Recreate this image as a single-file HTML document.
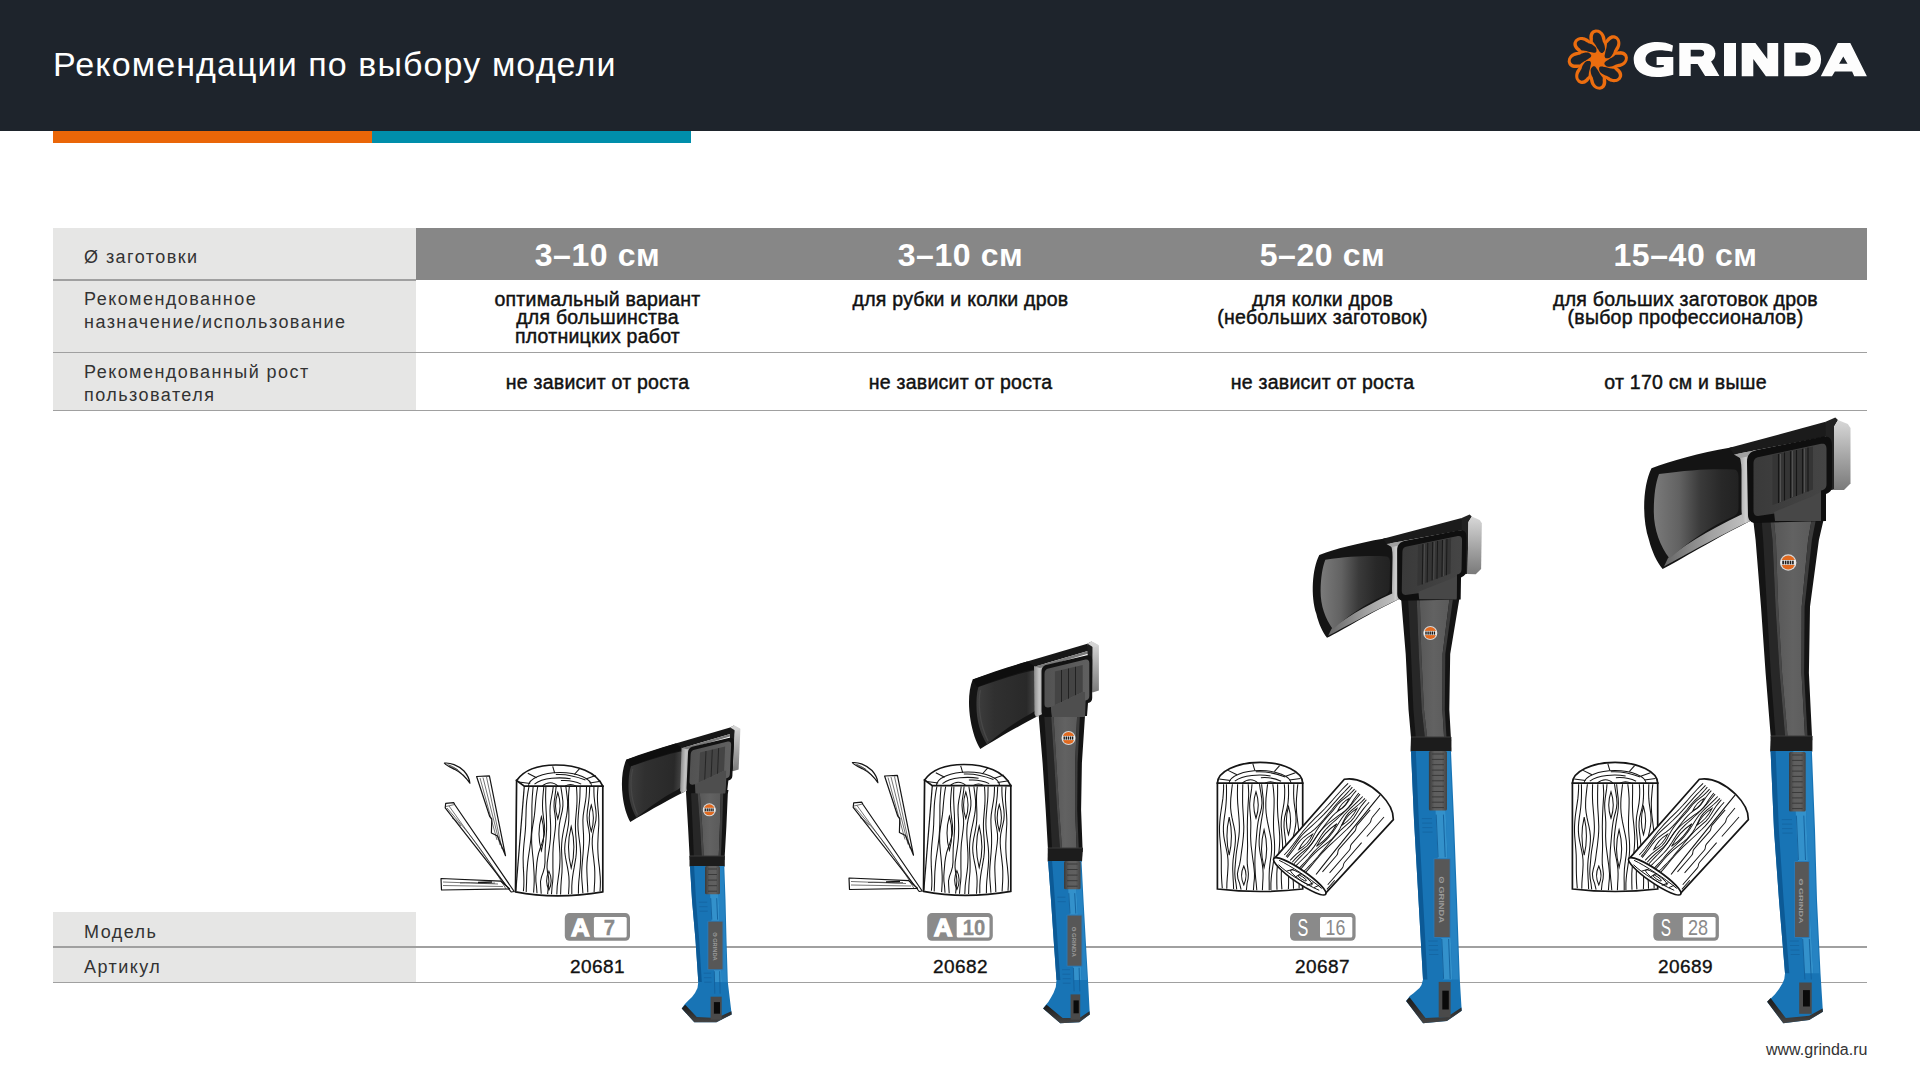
<!DOCTYPE html>
<html><head><meta charset="utf-8">
<style>
*{margin:0;padding:0;box-sizing:border-box}
html,body{width:1920px;height:1080px;overflow:hidden;background:#fff}
body{position:relative;font-family:"Liberation Sans",sans-serif;color:#000}
.a{position:absolute;white-space:nowrap}
#hdr{left:0;top:0;width:1920px;height:131px;background:#1e242c}
#title{left:53px;top:47px;font-size:34px;line-height:1;color:#fff;letter-spacing:1.1px}
.bar{top:131px;height:12px}
.g{background:#e6e6e5}
.dk{background:#878787}
.ln{height:1.5px;background:#a0a0a0}
.lb{font-size:18px;letter-spacing:1.45px;color:#333;line-height:1}
.hv{font-size:32px;font-weight:700;color:#fff;line-height:1;text-align:center;width:363px;letter-spacing:0.6px}
.tx{font-size:19.5px;font-weight:400;color:#111;line-height:1;text-align:center;width:363px;letter-spacing:0.25px;-webkit-text-stroke:0.45px #111}
.art{font-size:19px;color:#111;line-height:1;text-align:center;width:363px;letter-spacing:0.4px;-webkit-text-stroke:0.35px #111}
</style></head><body>
<div id="hdr" class="a"></div>
<svg class="a" style="left:0;top:0" width="1920" height="131" viewBox="0 0 1920 131">
<g fill="#ec6d0f">
<path transform="translate(1597.8 59.6) rotate(-90)" d="M0.70,4.18 L1.27,4.48 L1.27,5.65 L1.75,6.15 L2.24,6.63 L2.77,7.08 L3.31,7.51 L3.88,7.92 L4.47,8.29 L5.09,8.63 L5.73,8.94 L6.38,9.22 L7.06,9.46 L7.76,9.66 L8.47,9.82 L9.20,9.94 L9.94,10.02 L10.69,10.05 L11.45,10.03 L12.22,9.97 L13.00,9.86 L13.77,9.71 L14.55,9.50 L15.33,9.25 L16.11,8.94 L16.88,8.59 L17.64,8.19 L18.31,7.97 L18.91,7.90 L19.50,7.84 L20.09,7.77 L20.68,7.69 L21.28,7.61 L21.87,7.51 L22.46,7.37 L23.04,7.19 L23.63,6.98 L24.22,6.74 L24.80,6.45 L25.37,6.12 L25.95,5.74 L26.52,5.32 L27.08,4.83 L27.64,4.28 L28.19,3.64 L28.73,2.88 L29.25,1.97 L29.75,0.75 L30.12,-2.14 L30.12,-2.14 L29.38,-4.76 L28.76,-5.71 L28.16,-6.36 L27.58,-6.86 L27.01,-7.26 L26.45,-7.57 L25.89,-7.83 L25.33,-8.03 L24.78,-8.19 L24.23,-8.31 L23.69,-8.40 L23.15,-8.45 L22.60,-8.48 L22.06,-8.47 L21.52,-8.44 L20.98,-8.38 L20.44,-8.31 L19.91,-8.23 L19.37,-8.16 L18.83,-8.10 L18.29,-8.03 L17.82,-7.80 L17.43,-7.41 L17.03,-7.02 L16.63,-6.65 L16.21,-6.27 L15.78,-5.91 L15.34,-5.55 L14.89,-5.19 L14.43,-4.84 L13.96,-4.50 L13.48,-4.17 L12.98,-3.85 L12.48,-3.54 L11.96,-3.24 L11.43,-2.95 L10.89,-2.69 L10.34,-2.43 L9.78,-2.20 L9.21,-1.98 L8.63,-1.79 L8.05,-1.62 L7.46,-1.47 L6.87,-1.35 L6.27,-1.25 L5.68,-1.18 L4.64,-0.48 L4.18,-0.70 Z"/>
<path transform="translate(1597.8 59.6) rotate(-45)" d="M0.70,4.18 L1.27,4.48 L1.27,5.65 L1.75,6.15 L2.24,6.63 L2.77,7.08 L3.31,7.51 L3.88,7.92 L4.47,8.29 L5.09,8.63 L5.73,8.94 L6.38,9.22 L7.06,9.46 L7.76,9.66 L8.47,9.82 L9.20,9.94 L9.94,10.02 L10.69,10.05 L11.45,10.03 L12.22,9.97 L13.00,9.86 L13.77,9.71 L14.55,9.50 L15.33,9.25 L16.11,8.94 L16.88,8.59 L17.64,8.19 L18.31,7.97 L18.91,7.90 L19.50,7.84 L20.09,7.77 L20.68,7.69 L21.28,7.61 L21.87,7.51 L22.46,7.37 L23.04,7.19 L23.63,6.98 L24.22,6.74 L24.80,6.45 L25.37,6.12 L25.95,5.74 L26.52,5.32 L27.08,4.83 L27.64,4.28 L28.19,3.64 L28.73,2.88 L29.25,1.97 L29.75,0.75 L30.12,-2.14 L30.12,-2.14 L29.38,-4.76 L28.76,-5.71 L28.16,-6.36 L27.58,-6.86 L27.01,-7.26 L26.45,-7.57 L25.89,-7.83 L25.33,-8.03 L24.78,-8.19 L24.23,-8.31 L23.69,-8.40 L23.15,-8.45 L22.60,-8.48 L22.06,-8.47 L21.52,-8.44 L20.98,-8.38 L20.44,-8.31 L19.91,-8.23 L19.37,-8.16 L18.83,-8.10 L18.29,-8.03 L17.82,-7.80 L17.43,-7.41 L17.03,-7.02 L16.63,-6.65 L16.21,-6.27 L15.78,-5.91 L15.34,-5.55 L14.89,-5.19 L14.43,-4.84 L13.96,-4.50 L13.48,-4.17 L12.98,-3.85 L12.48,-3.54 L11.96,-3.24 L11.43,-2.95 L10.89,-2.69 L10.34,-2.43 L9.78,-2.20 L9.21,-1.98 L8.63,-1.79 L8.05,-1.62 L7.46,-1.47 L6.87,-1.35 L6.27,-1.25 L5.68,-1.18 L4.64,-0.48 L4.18,-0.70 Z"/>
<path transform="translate(1597.8 59.6) rotate(0)" d="M0.70,4.18 L1.27,4.48 L1.27,5.65 L1.75,6.15 L2.24,6.63 L2.77,7.08 L3.31,7.51 L3.88,7.92 L4.47,8.29 L5.09,8.63 L5.73,8.94 L6.38,9.22 L7.06,9.46 L7.76,9.66 L8.47,9.82 L9.20,9.94 L9.94,10.02 L10.69,10.05 L11.45,10.03 L12.22,9.97 L13.00,9.86 L13.77,9.71 L14.55,9.50 L15.33,9.25 L16.11,8.94 L16.88,8.59 L17.64,8.19 L18.31,7.97 L18.91,7.90 L19.50,7.84 L20.09,7.77 L20.68,7.69 L21.28,7.61 L21.87,7.51 L22.46,7.37 L23.04,7.19 L23.63,6.98 L24.22,6.74 L24.80,6.45 L25.37,6.12 L25.95,5.74 L26.52,5.32 L27.08,4.83 L27.64,4.28 L28.19,3.64 L28.73,2.88 L29.25,1.97 L29.75,0.75 L30.12,-2.14 L30.12,-2.14 L29.38,-4.76 L28.76,-5.71 L28.16,-6.36 L27.58,-6.86 L27.01,-7.26 L26.45,-7.57 L25.89,-7.83 L25.33,-8.03 L24.78,-8.19 L24.23,-8.31 L23.69,-8.40 L23.15,-8.45 L22.60,-8.48 L22.06,-8.47 L21.52,-8.44 L20.98,-8.38 L20.44,-8.31 L19.91,-8.23 L19.37,-8.16 L18.83,-8.10 L18.29,-8.03 L17.82,-7.80 L17.43,-7.41 L17.03,-7.02 L16.63,-6.65 L16.21,-6.27 L15.78,-5.91 L15.34,-5.55 L14.89,-5.19 L14.43,-4.84 L13.96,-4.50 L13.48,-4.17 L12.98,-3.85 L12.48,-3.54 L11.96,-3.24 L11.43,-2.95 L10.89,-2.69 L10.34,-2.43 L9.78,-2.20 L9.21,-1.98 L8.63,-1.79 L8.05,-1.62 L7.46,-1.47 L6.87,-1.35 L6.27,-1.25 L5.68,-1.18 L4.64,-0.48 L4.18,-0.70 Z"/>
<path transform="translate(1597.8 59.6) rotate(45)" d="M0.70,4.18 L1.27,4.48 L1.27,5.65 L1.75,6.15 L2.24,6.63 L2.77,7.08 L3.31,7.51 L3.88,7.92 L4.47,8.29 L5.09,8.63 L5.73,8.94 L6.38,9.22 L7.06,9.46 L7.76,9.66 L8.47,9.82 L9.20,9.94 L9.94,10.02 L10.69,10.05 L11.45,10.03 L12.22,9.97 L13.00,9.86 L13.77,9.71 L14.55,9.50 L15.33,9.25 L16.11,8.94 L16.88,8.59 L17.64,8.19 L18.31,7.97 L18.91,7.90 L19.50,7.84 L20.09,7.77 L20.68,7.69 L21.28,7.61 L21.87,7.51 L22.46,7.37 L23.04,7.19 L23.63,6.98 L24.22,6.74 L24.80,6.45 L25.37,6.12 L25.95,5.74 L26.52,5.32 L27.08,4.83 L27.64,4.28 L28.19,3.64 L28.73,2.88 L29.25,1.97 L29.75,0.75 L30.12,-2.14 L30.12,-2.14 L29.38,-4.76 L28.76,-5.71 L28.16,-6.36 L27.58,-6.86 L27.01,-7.26 L26.45,-7.57 L25.89,-7.83 L25.33,-8.03 L24.78,-8.19 L24.23,-8.31 L23.69,-8.40 L23.15,-8.45 L22.60,-8.48 L22.06,-8.47 L21.52,-8.44 L20.98,-8.38 L20.44,-8.31 L19.91,-8.23 L19.37,-8.16 L18.83,-8.10 L18.29,-8.03 L17.82,-7.80 L17.43,-7.41 L17.03,-7.02 L16.63,-6.65 L16.21,-6.27 L15.78,-5.91 L15.34,-5.55 L14.89,-5.19 L14.43,-4.84 L13.96,-4.50 L13.48,-4.17 L12.98,-3.85 L12.48,-3.54 L11.96,-3.24 L11.43,-2.95 L10.89,-2.69 L10.34,-2.43 L9.78,-2.20 L9.21,-1.98 L8.63,-1.79 L8.05,-1.62 L7.46,-1.47 L6.87,-1.35 L6.27,-1.25 L5.68,-1.18 L4.64,-0.48 L4.18,-0.70 Z"/>
<path transform="translate(1597.8 59.6) rotate(90)" d="M0.70,4.18 L1.27,4.48 L1.27,5.65 L1.75,6.15 L2.24,6.63 L2.77,7.08 L3.31,7.51 L3.88,7.92 L4.47,8.29 L5.09,8.63 L5.73,8.94 L6.38,9.22 L7.06,9.46 L7.76,9.66 L8.47,9.82 L9.20,9.94 L9.94,10.02 L10.69,10.05 L11.45,10.03 L12.22,9.97 L13.00,9.86 L13.77,9.71 L14.55,9.50 L15.33,9.25 L16.11,8.94 L16.88,8.59 L17.64,8.19 L18.31,7.97 L18.91,7.90 L19.50,7.84 L20.09,7.77 L20.68,7.69 L21.28,7.61 L21.87,7.51 L22.46,7.37 L23.04,7.19 L23.63,6.98 L24.22,6.74 L24.80,6.45 L25.37,6.12 L25.95,5.74 L26.52,5.32 L27.08,4.83 L27.64,4.28 L28.19,3.64 L28.73,2.88 L29.25,1.97 L29.75,0.75 L30.12,-2.14 L30.12,-2.14 L29.38,-4.76 L28.76,-5.71 L28.16,-6.36 L27.58,-6.86 L27.01,-7.26 L26.45,-7.57 L25.89,-7.83 L25.33,-8.03 L24.78,-8.19 L24.23,-8.31 L23.69,-8.40 L23.15,-8.45 L22.60,-8.48 L22.06,-8.47 L21.52,-8.44 L20.98,-8.38 L20.44,-8.31 L19.91,-8.23 L19.37,-8.16 L18.83,-8.10 L18.29,-8.03 L17.82,-7.80 L17.43,-7.41 L17.03,-7.02 L16.63,-6.65 L16.21,-6.27 L15.78,-5.91 L15.34,-5.55 L14.89,-5.19 L14.43,-4.84 L13.96,-4.50 L13.48,-4.17 L12.98,-3.85 L12.48,-3.54 L11.96,-3.24 L11.43,-2.95 L10.89,-2.69 L10.34,-2.43 L9.78,-2.20 L9.21,-1.98 L8.63,-1.79 L8.05,-1.62 L7.46,-1.47 L6.87,-1.35 L6.27,-1.25 L5.68,-1.18 L4.64,-0.48 L4.18,-0.70 Z"/>
<path transform="translate(1597.8 59.6) rotate(135)" d="M0.70,4.18 L1.27,4.48 L1.27,5.65 L1.75,6.15 L2.24,6.63 L2.77,7.08 L3.31,7.51 L3.88,7.92 L4.47,8.29 L5.09,8.63 L5.73,8.94 L6.38,9.22 L7.06,9.46 L7.76,9.66 L8.47,9.82 L9.20,9.94 L9.94,10.02 L10.69,10.05 L11.45,10.03 L12.22,9.97 L13.00,9.86 L13.77,9.71 L14.55,9.50 L15.33,9.25 L16.11,8.94 L16.88,8.59 L17.64,8.19 L18.31,7.97 L18.91,7.90 L19.50,7.84 L20.09,7.77 L20.68,7.69 L21.28,7.61 L21.87,7.51 L22.46,7.37 L23.04,7.19 L23.63,6.98 L24.22,6.74 L24.80,6.45 L25.37,6.12 L25.95,5.74 L26.52,5.32 L27.08,4.83 L27.64,4.28 L28.19,3.64 L28.73,2.88 L29.25,1.97 L29.75,0.75 L30.12,-2.14 L30.12,-2.14 L29.38,-4.76 L28.76,-5.71 L28.16,-6.36 L27.58,-6.86 L27.01,-7.26 L26.45,-7.57 L25.89,-7.83 L25.33,-8.03 L24.78,-8.19 L24.23,-8.31 L23.69,-8.40 L23.15,-8.45 L22.60,-8.48 L22.06,-8.47 L21.52,-8.44 L20.98,-8.38 L20.44,-8.31 L19.91,-8.23 L19.37,-8.16 L18.83,-8.10 L18.29,-8.03 L17.82,-7.80 L17.43,-7.41 L17.03,-7.02 L16.63,-6.65 L16.21,-6.27 L15.78,-5.91 L15.34,-5.55 L14.89,-5.19 L14.43,-4.84 L13.96,-4.50 L13.48,-4.17 L12.98,-3.85 L12.48,-3.54 L11.96,-3.24 L11.43,-2.95 L10.89,-2.69 L10.34,-2.43 L9.78,-2.20 L9.21,-1.98 L8.63,-1.79 L8.05,-1.62 L7.46,-1.47 L6.87,-1.35 L6.27,-1.25 L5.68,-1.18 L4.64,-0.48 L4.18,-0.70 Z"/>
<path transform="translate(1597.8 59.6) rotate(180)" d="M0.70,4.18 L1.27,4.48 L1.27,5.65 L1.75,6.15 L2.24,6.63 L2.77,7.08 L3.31,7.51 L3.88,7.92 L4.47,8.29 L5.09,8.63 L5.73,8.94 L6.38,9.22 L7.06,9.46 L7.76,9.66 L8.47,9.82 L9.20,9.94 L9.94,10.02 L10.69,10.05 L11.45,10.03 L12.22,9.97 L13.00,9.86 L13.77,9.71 L14.55,9.50 L15.33,9.25 L16.11,8.94 L16.88,8.59 L17.64,8.19 L18.31,7.97 L18.91,7.90 L19.50,7.84 L20.09,7.77 L20.68,7.69 L21.28,7.61 L21.87,7.51 L22.46,7.37 L23.04,7.19 L23.63,6.98 L24.22,6.74 L24.80,6.45 L25.37,6.12 L25.95,5.74 L26.52,5.32 L27.08,4.83 L27.64,4.28 L28.19,3.64 L28.73,2.88 L29.25,1.97 L29.75,0.75 L30.12,-2.14 L30.12,-2.14 L29.38,-4.76 L28.76,-5.71 L28.16,-6.36 L27.58,-6.86 L27.01,-7.26 L26.45,-7.57 L25.89,-7.83 L25.33,-8.03 L24.78,-8.19 L24.23,-8.31 L23.69,-8.40 L23.15,-8.45 L22.60,-8.48 L22.06,-8.47 L21.52,-8.44 L20.98,-8.38 L20.44,-8.31 L19.91,-8.23 L19.37,-8.16 L18.83,-8.10 L18.29,-8.03 L17.82,-7.80 L17.43,-7.41 L17.03,-7.02 L16.63,-6.65 L16.21,-6.27 L15.78,-5.91 L15.34,-5.55 L14.89,-5.19 L14.43,-4.84 L13.96,-4.50 L13.48,-4.17 L12.98,-3.85 L12.48,-3.54 L11.96,-3.24 L11.43,-2.95 L10.89,-2.69 L10.34,-2.43 L9.78,-2.20 L9.21,-1.98 L8.63,-1.79 L8.05,-1.62 L7.46,-1.47 L6.87,-1.35 L6.27,-1.25 L5.68,-1.18 L4.64,-0.48 L4.18,-0.70 Z"/>
<path transform="translate(1597.8 59.6) rotate(225)" d="M0.70,4.18 L1.27,4.48 L1.27,5.65 L1.75,6.15 L2.24,6.63 L2.77,7.08 L3.31,7.51 L3.88,7.92 L4.47,8.29 L5.09,8.63 L5.73,8.94 L6.38,9.22 L7.06,9.46 L7.76,9.66 L8.47,9.82 L9.20,9.94 L9.94,10.02 L10.69,10.05 L11.45,10.03 L12.22,9.97 L13.00,9.86 L13.77,9.71 L14.55,9.50 L15.33,9.25 L16.11,8.94 L16.88,8.59 L17.64,8.19 L18.31,7.97 L18.91,7.90 L19.50,7.84 L20.09,7.77 L20.68,7.69 L21.28,7.61 L21.87,7.51 L22.46,7.37 L23.04,7.19 L23.63,6.98 L24.22,6.74 L24.80,6.45 L25.37,6.12 L25.95,5.74 L26.52,5.32 L27.08,4.83 L27.64,4.28 L28.19,3.64 L28.73,2.88 L29.25,1.97 L29.75,0.75 L30.12,-2.14 L30.12,-2.14 L29.38,-4.76 L28.76,-5.71 L28.16,-6.36 L27.58,-6.86 L27.01,-7.26 L26.45,-7.57 L25.89,-7.83 L25.33,-8.03 L24.78,-8.19 L24.23,-8.31 L23.69,-8.40 L23.15,-8.45 L22.60,-8.48 L22.06,-8.47 L21.52,-8.44 L20.98,-8.38 L20.44,-8.31 L19.91,-8.23 L19.37,-8.16 L18.83,-8.10 L18.29,-8.03 L17.82,-7.80 L17.43,-7.41 L17.03,-7.02 L16.63,-6.65 L16.21,-6.27 L15.78,-5.91 L15.34,-5.55 L14.89,-5.19 L14.43,-4.84 L13.96,-4.50 L13.48,-4.17 L12.98,-3.85 L12.48,-3.54 L11.96,-3.24 L11.43,-2.95 L10.89,-2.69 L10.34,-2.43 L9.78,-2.20 L9.21,-1.98 L8.63,-1.79 L8.05,-1.62 L7.46,-1.47 L6.87,-1.35 L6.27,-1.25 L5.68,-1.18 L4.64,-0.48 L4.18,-0.70 Z"/>
</g><g fill="#1e242c">
<path transform="translate(1597.8 59.6) rotate(-90)" d="M6.60,3.60 L6.63,4.57 L6.93,4.97 L7.26,5.36 L7.60,5.72 L7.96,6.06 L8.35,6.36 L8.76,6.62 L9.18,6.83 L9.63,7.00 L10.10,7.11 L10.58,7.17 L11.08,7.17 L11.59,7.11 L12.11,7.04 L12.61,6.99 L13.12,6.91 L13.63,6.82 L14.15,6.70 L14.66,6.56 L15.17,6.40 L15.68,6.21 L16.20,5.98 L16.70,5.74 L17.21,5.46 L17.71,5.15 L18.18,4.93 L18.60,4.84 L19.02,4.75 L19.44,4.64 L19.86,4.52 L20.28,4.39 L20.70,4.26 L21.12,4.13 L21.54,4.06 L21.96,3.96 L22.38,3.85 L22.80,3.71 L23.21,3.55 L23.63,3.36 L24.04,3.15 L24.45,2.90 L24.86,2.62 L25.27,2.30 L25.67,1.92 L26.07,1.49 L26.46,0.95 L26.84,0.24 L27.16,-1.46 L27.16,-1.46 L26.67,-2.98 L26.24,-3.52 L25.82,-3.89 L25.40,-4.17 L24.99,-4.39 L24.58,-4.56 L24.17,-4.69 L23.77,-4.79 L23.36,-4.87 L22.96,-4.92 L22.56,-4.95 L22.16,-4.96 L21.76,-4.95 L21.36,-4.92 L20.96,-4.87 L20.56,-4.89 L20.16,-4.91 L19.76,-4.93 L19.36,-4.95 L18.96,-4.96 L18.56,-4.97 L18.17,-4.97 L17.81,-4.80 L17.48,-4.53 L17.14,-4.25 L16.80,-3.98 L16.46,-3.71 L16.10,-3.43 L15.75,-3.16 L15.38,-2.89 L15.02,-2.63 L14.64,-2.37 L14.26,-2.12 L13.88,-1.88 L13.50,-1.68 L13.11,-1.50 L12.72,-1.30 L12.31,-1.06 L11.88,-0.79 L11.43,-0.51 L10.97,-0.20 L10.49,0.13 L9.99,0.47 L9.48,0.81 L8.95,1.16 L8.40,1.50 L7.84,1.83 L7.02,2.69 Z"/>
<path transform="translate(1597.8 59.6) rotate(-45)" d="M6.60,3.60 L6.63,4.57 L6.93,4.97 L7.26,5.36 L7.60,5.72 L7.96,6.06 L8.35,6.36 L8.76,6.62 L9.18,6.83 L9.63,7.00 L10.10,7.11 L10.58,7.17 L11.08,7.17 L11.59,7.11 L12.11,7.04 L12.61,6.99 L13.12,6.91 L13.63,6.82 L14.15,6.70 L14.66,6.56 L15.17,6.40 L15.68,6.21 L16.20,5.98 L16.70,5.74 L17.21,5.46 L17.71,5.15 L18.18,4.93 L18.60,4.84 L19.02,4.75 L19.44,4.64 L19.86,4.52 L20.28,4.39 L20.70,4.26 L21.12,4.13 L21.54,4.06 L21.96,3.96 L22.38,3.85 L22.80,3.71 L23.21,3.55 L23.63,3.36 L24.04,3.15 L24.45,2.90 L24.86,2.62 L25.27,2.30 L25.67,1.92 L26.07,1.49 L26.46,0.95 L26.84,0.24 L27.16,-1.46 L27.16,-1.46 L26.67,-2.98 L26.24,-3.52 L25.82,-3.89 L25.40,-4.17 L24.99,-4.39 L24.58,-4.56 L24.17,-4.69 L23.77,-4.79 L23.36,-4.87 L22.96,-4.92 L22.56,-4.95 L22.16,-4.96 L21.76,-4.95 L21.36,-4.92 L20.96,-4.87 L20.56,-4.89 L20.16,-4.91 L19.76,-4.93 L19.36,-4.95 L18.96,-4.96 L18.56,-4.97 L18.17,-4.97 L17.81,-4.80 L17.48,-4.53 L17.14,-4.25 L16.80,-3.98 L16.46,-3.71 L16.10,-3.43 L15.75,-3.16 L15.38,-2.89 L15.02,-2.63 L14.64,-2.37 L14.26,-2.12 L13.88,-1.88 L13.50,-1.68 L13.11,-1.50 L12.72,-1.30 L12.31,-1.06 L11.88,-0.79 L11.43,-0.51 L10.97,-0.20 L10.49,0.13 L9.99,0.47 L9.48,0.81 L8.95,1.16 L8.40,1.50 L7.84,1.83 L7.02,2.69 Z"/>
<path transform="translate(1597.8 59.6) rotate(0)" d="M6.60,3.60 L6.63,4.57 L6.93,4.97 L7.26,5.36 L7.60,5.72 L7.96,6.06 L8.35,6.36 L8.76,6.62 L9.18,6.83 L9.63,7.00 L10.10,7.11 L10.58,7.17 L11.08,7.17 L11.59,7.11 L12.11,7.04 L12.61,6.99 L13.12,6.91 L13.63,6.82 L14.15,6.70 L14.66,6.56 L15.17,6.40 L15.68,6.21 L16.20,5.98 L16.70,5.74 L17.21,5.46 L17.71,5.15 L18.18,4.93 L18.60,4.84 L19.02,4.75 L19.44,4.64 L19.86,4.52 L20.28,4.39 L20.70,4.26 L21.12,4.13 L21.54,4.06 L21.96,3.96 L22.38,3.85 L22.80,3.71 L23.21,3.55 L23.63,3.36 L24.04,3.15 L24.45,2.90 L24.86,2.62 L25.27,2.30 L25.67,1.92 L26.07,1.49 L26.46,0.95 L26.84,0.24 L27.16,-1.46 L27.16,-1.46 L26.67,-2.98 L26.24,-3.52 L25.82,-3.89 L25.40,-4.17 L24.99,-4.39 L24.58,-4.56 L24.17,-4.69 L23.77,-4.79 L23.36,-4.87 L22.96,-4.92 L22.56,-4.95 L22.16,-4.96 L21.76,-4.95 L21.36,-4.92 L20.96,-4.87 L20.56,-4.89 L20.16,-4.91 L19.76,-4.93 L19.36,-4.95 L18.96,-4.96 L18.56,-4.97 L18.17,-4.97 L17.81,-4.80 L17.48,-4.53 L17.14,-4.25 L16.80,-3.98 L16.46,-3.71 L16.10,-3.43 L15.75,-3.16 L15.38,-2.89 L15.02,-2.63 L14.64,-2.37 L14.26,-2.12 L13.88,-1.88 L13.50,-1.68 L13.11,-1.50 L12.72,-1.30 L12.31,-1.06 L11.88,-0.79 L11.43,-0.51 L10.97,-0.20 L10.49,0.13 L9.99,0.47 L9.48,0.81 L8.95,1.16 L8.40,1.50 L7.84,1.83 L7.02,2.69 Z"/>
<path transform="translate(1597.8 59.6) rotate(45)" d="M6.60,3.60 L6.63,4.57 L6.93,4.97 L7.26,5.36 L7.60,5.72 L7.96,6.06 L8.35,6.36 L8.76,6.62 L9.18,6.83 L9.63,7.00 L10.10,7.11 L10.58,7.17 L11.08,7.17 L11.59,7.11 L12.11,7.04 L12.61,6.99 L13.12,6.91 L13.63,6.82 L14.15,6.70 L14.66,6.56 L15.17,6.40 L15.68,6.21 L16.20,5.98 L16.70,5.74 L17.21,5.46 L17.71,5.15 L18.18,4.93 L18.60,4.84 L19.02,4.75 L19.44,4.64 L19.86,4.52 L20.28,4.39 L20.70,4.26 L21.12,4.13 L21.54,4.06 L21.96,3.96 L22.38,3.85 L22.80,3.71 L23.21,3.55 L23.63,3.36 L24.04,3.15 L24.45,2.90 L24.86,2.62 L25.27,2.30 L25.67,1.92 L26.07,1.49 L26.46,0.95 L26.84,0.24 L27.16,-1.46 L27.16,-1.46 L26.67,-2.98 L26.24,-3.52 L25.82,-3.89 L25.40,-4.17 L24.99,-4.39 L24.58,-4.56 L24.17,-4.69 L23.77,-4.79 L23.36,-4.87 L22.96,-4.92 L22.56,-4.95 L22.16,-4.96 L21.76,-4.95 L21.36,-4.92 L20.96,-4.87 L20.56,-4.89 L20.16,-4.91 L19.76,-4.93 L19.36,-4.95 L18.96,-4.96 L18.56,-4.97 L18.17,-4.97 L17.81,-4.80 L17.48,-4.53 L17.14,-4.25 L16.80,-3.98 L16.46,-3.71 L16.10,-3.43 L15.75,-3.16 L15.38,-2.89 L15.02,-2.63 L14.64,-2.37 L14.26,-2.12 L13.88,-1.88 L13.50,-1.68 L13.11,-1.50 L12.72,-1.30 L12.31,-1.06 L11.88,-0.79 L11.43,-0.51 L10.97,-0.20 L10.49,0.13 L9.99,0.47 L9.48,0.81 L8.95,1.16 L8.40,1.50 L7.84,1.83 L7.02,2.69 Z"/>
<path transform="translate(1597.8 59.6) rotate(90)" d="M6.60,3.60 L6.63,4.57 L6.93,4.97 L7.26,5.36 L7.60,5.72 L7.96,6.06 L8.35,6.36 L8.76,6.62 L9.18,6.83 L9.63,7.00 L10.10,7.11 L10.58,7.17 L11.08,7.17 L11.59,7.11 L12.11,7.04 L12.61,6.99 L13.12,6.91 L13.63,6.82 L14.15,6.70 L14.66,6.56 L15.17,6.40 L15.68,6.21 L16.20,5.98 L16.70,5.74 L17.21,5.46 L17.71,5.15 L18.18,4.93 L18.60,4.84 L19.02,4.75 L19.44,4.64 L19.86,4.52 L20.28,4.39 L20.70,4.26 L21.12,4.13 L21.54,4.06 L21.96,3.96 L22.38,3.85 L22.80,3.71 L23.21,3.55 L23.63,3.36 L24.04,3.15 L24.45,2.90 L24.86,2.62 L25.27,2.30 L25.67,1.92 L26.07,1.49 L26.46,0.95 L26.84,0.24 L27.16,-1.46 L27.16,-1.46 L26.67,-2.98 L26.24,-3.52 L25.82,-3.89 L25.40,-4.17 L24.99,-4.39 L24.58,-4.56 L24.17,-4.69 L23.77,-4.79 L23.36,-4.87 L22.96,-4.92 L22.56,-4.95 L22.16,-4.96 L21.76,-4.95 L21.36,-4.92 L20.96,-4.87 L20.56,-4.89 L20.16,-4.91 L19.76,-4.93 L19.36,-4.95 L18.96,-4.96 L18.56,-4.97 L18.17,-4.97 L17.81,-4.80 L17.48,-4.53 L17.14,-4.25 L16.80,-3.98 L16.46,-3.71 L16.10,-3.43 L15.75,-3.16 L15.38,-2.89 L15.02,-2.63 L14.64,-2.37 L14.26,-2.12 L13.88,-1.88 L13.50,-1.68 L13.11,-1.50 L12.72,-1.30 L12.31,-1.06 L11.88,-0.79 L11.43,-0.51 L10.97,-0.20 L10.49,0.13 L9.99,0.47 L9.48,0.81 L8.95,1.16 L8.40,1.50 L7.84,1.83 L7.02,2.69 Z"/>
<path transform="translate(1597.8 59.6) rotate(135)" d="M6.60,3.60 L6.63,4.57 L6.93,4.97 L7.26,5.36 L7.60,5.72 L7.96,6.06 L8.35,6.36 L8.76,6.62 L9.18,6.83 L9.63,7.00 L10.10,7.11 L10.58,7.17 L11.08,7.17 L11.59,7.11 L12.11,7.04 L12.61,6.99 L13.12,6.91 L13.63,6.82 L14.15,6.70 L14.66,6.56 L15.17,6.40 L15.68,6.21 L16.20,5.98 L16.70,5.74 L17.21,5.46 L17.71,5.15 L18.18,4.93 L18.60,4.84 L19.02,4.75 L19.44,4.64 L19.86,4.52 L20.28,4.39 L20.70,4.26 L21.12,4.13 L21.54,4.06 L21.96,3.96 L22.38,3.85 L22.80,3.71 L23.21,3.55 L23.63,3.36 L24.04,3.15 L24.45,2.90 L24.86,2.62 L25.27,2.30 L25.67,1.92 L26.07,1.49 L26.46,0.95 L26.84,0.24 L27.16,-1.46 L27.16,-1.46 L26.67,-2.98 L26.24,-3.52 L25.82,-3.89 L25.40,-4.17 L24.99,-4.39 L24.58,-4.56 L24.17,-4.69 L23.77,-4.79 L23.36,-4.87 L22.96,-4.92 L22.56,-4.95 L22.16,-4.96 L21.76,-4.95 L21.36,-4.92 L20.96,-4.87 L20.56,-4.89 L20.16,-4.91 L19.76,-4.93 L19.36,-4.95 L18.96,-4.96 L18.56,-4.97 L18.17,-4.97 L17.81,-4.80 L17.48,-4.53 L17.14,-4.25 L16.80,-3.98 L16.46,-3.71 L16.10,-3.43 L15.75,-3.16 L15.38,-2.89 L15.02,-2.63 L14.64,-2.37 L14.26,-2.12 L13.88,-1.88 L13.50,-1.68 L13.11,-1.50 L12.72,-1.30 L12.31,-1.06 L11.88,-0.79 L11.43,-0.51 L10.97,-0.20 L10.49,0.13 L9.99,0.47 L9.48,0.81 L8.95,1.16 L8.40,1.50 L7.84,1.83 L7.02,2.69 Z"/>
<path transform="translate(1597.8 59.6) rotate(180)" d="M6.60,3.60 L6.63,4.57 L6.93,4.97 L7.26,5.36 L7.60,5.72 L7.96,6.06 L8.35,6.36 L8.76,6.62 L9.18,6.83 L9.63,7.00 L10.10,7.11 L10.58,7.17 L11.08,7.17 L11.59,7.11 L12.11,7.04 L12.61,6.99 L13.12,6.91 L13.63,6.82 L14.15,6.70 L14.66,6.56 L15.17,6.40 L15.68,6.21 L16.20,5.98 L16.70,5.74 L17.21,5.46 L17.71,5.15 L18.18,4.93 L18.60,4.84 L19.02,4.75 L19.44,4.64 L19.86,4.52 L20.28,4.39 L20.70,4.26 L21.12,4.13 L21.54,4.06 L21.96,3.96 L22.38,3.85 L22.80,3.71 L23.21,3.55 L23.63,3.36 L24.04,3.15 L24.45,2.90 L24.86,2.62 L25.27,2.30 L25.67,1.92 L26.07,1.49 L26.46,0.95 L26.84,0.24 L27.16,-1.46 L27.16,-1.46 L26.67,-2.98 L26.24,-3.52 L25.82,-3.89 L25.40,-4.17 L24.99,-4.39 L24.58,-4.56 L24.17,-4.69 L23.77,-4.79 L23.36,-4.87 L22.96,-4.92 L22.56,-4.95 L22.16,-4.96 L21.76,-4.95 L21.36,-4.92 L20.96,-4.87 L20.56,-4.89 L20.16,-4.91 L19.76,-4.93 L19.36,-4.95 L18.96,-4.96 L18.56,-4.97 L18.17,-4.97 L17.81,-4.80 L17.48,-4.53 L17.14,-4.25 L16.80,-3.98 L16.46,-3.71 L16.10,-3.43 L15.75,-3.16 L15.38,-2.89 L15.02,-2.63 L14.64,-2.37 L14.26,-2.12 L13.88,-1.88 L13.50,-1.68 L13.11,-1.50 L12.72,-1.30 L12.31,-1.06 L11.88,-0.79 L11.43,-0.51 L10.97,-0.20 L10.49,0.13 L9.99,0.47 L9.48,0.81 L8.95,1.16 L8.40,1.50 L7.84,1.83 L7.02,2.69 Z"/>
<path transform="translate(1597.8 59.6) rotate(225)" d="M6.60,3.60 L6.63,4.57 L6.93,4.97 L7.26,5.36 L7.60,5.72 L7.96,6.06 L8.35,6.36 L8.76,6.62 L9.18,6.83 L9.63,7.00 L10.10,7.11 L10.58,7.17 L11.08,7.17 L11.59,7.11 L12.11,7.04 L12.61,6.99 L13.12,6.91 L13.63,6.82 L14.15,6.70 L14.66,6.56 L15.17,6.40 L15.68,6.21 L16.20,5.98 L16.70,5.74 L17.21,5.46 L17.71,5.15 L18.18,4.93 L18.60,4.84 L19.02,4.75 L19.44,4.64 L19.86,4.52 L20.28,4.39 L20.70,4.26 L21.12,4.13 L21.54,4.06 L21.96,3.96 L22.38,3.85 L22.80,3.71 L23.21,3.55 L23.63,3.36 L24.04,3.15 L24.45,2.90 L24.86,2.62 L25.27,2.30 L25.67,1.92 L26.07,1.49 L26.46,0.95 L26.84,0.24 L27.16,-1.46 L27.16,-1.46 L26.67,-2.98 L26.24,-3.52 L25.82,-3.89 L25.40,-4.17 L24.99,-4.39 L24.58,-4.56 L24.17,-4.69 L23.77,-4.79 L23.36,-4.87 L22.96,-4.92 L22.56,-4.95 L22.16,-4.96 L21.76,-4.95 L21.36,-4.92 L20.96,-4.87 L20.56,-4.89 L20.16,-4.91 L19.76,-4.93 L19.36,-4.95 L18.96,-4.96 L18.56,-4.97 L18.17,-4.97 L17.81,-4.80 L17.48,-4.53 L17.14,-4.25 L16.80,-3.98 L16.46,-3.71 L16.10,-3.43 L15.75,-3.16 L15.38,-2.89 L15.02,-2.63 L14.64,-2.37 L14.26,-2.12 L13.88,-1.88 L13.50,-1.68 L13.11,-1.50 L12.72,-1.30 L12.31,-1.06 L11.88,-0.79 L11.43,-0.51 L10.97,-0.20 L10.49,0.13 L9.99,0.47 L9.48,0.81 L8.95,1.16 L8.40,1.50 L7.84,1.83 L7.02,2.69 Z"/>
</g>
<circle cx="1597.8" cy="59.6" r="6.3" fill="#ec6d0f"/>
<g fill="#fdfdfd">
<path d="M1673,45.4 L1672.1,51.8 C1668,50.8 1663,50.3 1659.2,50.3 C1651,50.3 1645.5,54 1645.5,59.2 C1645.5,64 1651,67.5 1659.2,67.5 C1661,67.5 1662.5,67.2 1663.8,66.8 L1663.8,64.9 L1656.6,64.9 L1656.6,56.9 L1673.3,56.9 L1673.3,74.7 C1668,76.3 1662,77 1656.9,77 C1642,77 1633.7,70 1633.7,59.5 C1633.7,49 1643,42 1657.5,42 C1663,42 1668.5,43.2 1673,45.4 Z"/>
<path fill-rule="evenodd" d="M1679.3,43 L1702.5,43 C1711,43 1715.4,47.5 1715.4,53.5 C1715.4,57.5 1713.5,60.2 1711.1,61.5 L1719.4,76.1 L1705.1,76.1 L1697.6,64.1 L1690.7,64.1 L1690.7,76.1 L1679.3,76.1 Z M1690.7,49.7 L1700.2,49.7 C1702.8,49.7 1704.2,51 1704.2,53.2 C1704.2,55.4 1702.8,56.6 1700.2,56.6 L1690.7,56.6 Z"/>
<rect x="1724" y="43" width="12" height="33.1"/>
<path d="M1741.7,43 L1755.4,43 L1767.3,59.1 L1767.3,43 L1778.2,43 L1778.2,76.3 L1765.9,76.3 L1753.3,59.1 L1753.3,76.3 L1741.7,76.3 Z"/>
<path fill-rule="evenodd" d="M1784.2,42.9 L1803,42.9 C1814.5,42.9 1821.1,49.5 1821.1,59.6 C1821.1,69.7 1814.5,76.3 1803,76.3 L1784.2,76.3 Z M1795.5,52.4 L1802.5,52.4 C1807.5,52.4 1810.6,55 1810.6,59.1 C1810.6,63.2 1807.5,65.8 1802.5,65.8 L1795.5,65.8 Z"/>
<path fill-rule="evenodd" d="M1820.8,76.3 L1837.7,42.9 L1850.3,42.9 L1866.9,76.3 L1854.2,76.3 L1852.1,71.4 L1834.9,71.4 L1832,76.3 Z M1843.3,56.6 L1847.5,63.7 L1839.1,63.7 Z"/>
</g></svg>
<div id="title" class="a">Рекомендации по выбору модели</div>
<div class="a bar" style="left:53px;width:319px;background:#ea6608"></div>
<div class="a bar" style="left:372px;width:319px;background:#008eab"></div>

<!-- table backgrounds -->
<div class="a g" style="left:53px;top:228px;width:363px;height:182px"></div>
<div class="a dk" style="left:416px;top:228px;width:1451px;height:52px"></div>
<div class="a ln" style="left:53px;top:279px;width:363px"></div>
<div class="a ln" style="left:53px;top:351.5px;width:1814px"></div>
<div class="a ln" style="left:53px;top:409.5px;width:1814px"></div>
<div class="a g" style="left:53px;top:912px;width:363px;height:70px"></div>
<div class="a ln" style="left:53px;top:946px;width:1814px"></div>
<div class="a ln" style="left:53px;top:981.75px;width:1814px"></div>

<!-- left labels -->
<div class="a lb" style="left:84px;top:247.6px">Ø заготовки</div>
<div class="a lb" style="left:84px;top:290.1px">Рекомендованное</div>
<div class="a lb" style="left:84px;top:313.3px">назначение/использование</div>
<div class="a lb" style="left:84px;top:363.3px">Рекомендованный рост</div>
<div class="a lb" style="left:84px;top:386.1px">пользователя</div>
<div class="a lb" style="left:84px;top:922.8px">Модель</div>
<div class="a lb" style="left:84px;top:958px">Артикул</div>

<!-- header values -->
<div class="a hv" style="left:416px;top:239.2px">3–10 см</div>
<div class="a hv" style="left:779px;top:239.2px">3–10 см</div>
<div class="a hv" style="left:1141px;top:239.2px">5–20 см</div>
<div class="a hv" style="left:1504px;top:239.2px">15–40 см</div>

<!-- purpose -->
<div class="a tx" style="left:416px;top:289.5px;line-height:18.7px">оптимальный вариант<br>для большинства<br>плотницких работ</div>
<div class="a tx" style="left:779px;top:289.5px;line-height:18.7px">для рубки и колки дров</div>
<div class="a tx" style="left:1141px;top:289.5px;line-height:18.7px">для колки дров<br>(небольших заготовок)</div>
<div class="a tx" style="left:1504px;top:289.5px;line-height:18.7px">для больших заготовок дров<br>(выбор профессионалов)</div>

<!-- height -->
<div class="a tx" style="left:416px;top:372.9px">не зависит от роста</div>
<div class="a tx" style="left:779px;top:372.9px">не зависит от роста</div>
<div class="a tx" style="left:1141px;top:372.9px">не зависит от роста</div>
<div class="a tx" style="left:1504px;top:372.9px">от 170 см и выше</div>

<!-- articles -->
<div class="a art" style="left:416px;top:957.2px">20681</div>
<div class="a art" style="left:779px;top:957.2px">20682</div>
<div class="a art" style="left:1141px;top:957.2px">20687</div>
<div class="a art" style="left:1504px;top:957.2px">20689</div>

<svg class="a" style="left:0;top:0" width="1920" height="1080" viewBox="0 0 1920 1080">
<rect x="564.8" y="913.1" width="65.2" height="27.7" rx="4.8" fill="#8a8a8a"/>
<rect x="593.9" y="916.9" width="32.8" height="20.6" rx="1.5" fill="#fff"/>
<text x="580.4" y="936.1" text-anchor="middle" font-family="Liberation Sans" font-weight="700" font-size="24.5" fill="#fff" stroke="#fff" stroke-width="1.3" textLength="18.7" lengthAdjust="spacingAndGlyphs">A</text>
<text x="609.4" y="935.3" text-anchor="middle" font-family="Liberation Sans" font-weight="700" font-size="21.5" fill="#8a8a8a" stroke="#8a8a8a" stroke-width="0.3" textLength="11.3" lengthAdjust="spacingAndGlyphs">7</text>
<rect x="927.2" y="913.1" width="65.6" height="27.7" rx="4.8" fill="#8a8a8a"/>
<rect x="956.7" y="916.9" width="32.8" height="20.6" rx="1.5" fill="#fff"/>
<text x="943.1" y="936.1" text-anchor="middle" font-family="Liberation Sans" font-weight="700" font-size="24.5" fill="#fff" stroke="#fff" stroke-width="1.3" textLength="18.8" lengthAdjust="spacingAndGlyphs">A</text>
<text x="974" y="935.3" text-anchor="middle" font-family="Liberation Sans" font-weight="700" font-size="21.5" fill="#8a8a8a" stroke="#8a8a8a" stroke-width="0.3" textLength="22.5" lengthAdjust="spacingAndGlyphs">10</text>
<rect x="1290" y="913.1" width="65.6" height="27.7" rx="4.8" fill="#8a8a8a"/>
<rect x="1320" y="916.9" width="32.3" height="20.6" rx="1.5" fill="#fff"/>
<text x="1302.9" y="936.1" text-anchor="middle" font-family="Liberation Sans" font-size="23.5" fill="#fff" textLength="10.8" lengthAdjust="spacingAndGlyphs">S</text>
<text x="1335.4" y="935.3" text-anchor="middle" font-family="Liberation Sans" font-size="21.5" fill="#8a8a8a" textLength="19.7" lengthAdjust="spacingAndGlyphs">16</text>
<rect x="1653.3" y="913.1" width="65.6" height="27.7" rx="4.8" fill="#8a8a8a"/>
<rect x="1682.8" y="916.9" width="32.8" height="20.6" rx="1.5" fill="#fff"/>
<text x="1665.9" y="936.1" text-anchor="middle" font-family="Liberation Sans" font-size="23.5" fill="#fff" textLength="10.3" lengthAdjust="spacingAndGlyphs">S</text>
<text x="1698" y="935.3" text-anchor="middle" font-family="Liberation Sans" font-size="21.5" fill="#8a8a8a" textLength="20.1" lengthAdjust="spacingAndGlyphs">28</text>
</svg>
<svg class="a" style="left:0;top:0" width="1920" height="1080" viewBox="0 0 1920 1080">
<g><path fill="#fff" stroke="#151515" stroke-width="1.7" d="M516.6,780.5 L515.5,891.9 Q556,900 602.8,891.9 L602.8,786.1 Z"/>
<path fill="#fff" stroke="#151515" stroke-width="1.7" d="M516.6,780.5 C524,770 538,765 555.8,765 C578,765 596,772 602.8,786.1 L524.3,786.1 Z"/>
<line x1="524.3" y1="786.1" x2="515.8" y2="891" stroke="#151515" stroke-width="1.2"/>
<g fill="none" stroke="#151515" stroke-width="1.05">
<path d="M528.5,786.1 A31.4,13.5 0 0 1 591.5,786.1"/>
<line x1="518.8" y1="781.9" x2="530.2" y2="783.4"/>
<line x1="527.8" y1="773.2" x2="536.6" y2="777.7"/>
<line x1="552.7" y1="766.3" x2="554.7" y2="773.2"/>
<line x1="579.8" y1="768.4" x2="574.3" y2="774.5"/>
<line x1="595.7" y1="775.5" x2="585.9" y2="779.1"/>
<line x1="600.8" y1="781.2" x2="589.6" y2="782.9"/>
<path d="M555.8,774.6 C566.4,773.8 574.9,775.9 585.5,780"/>
<path d="M534.5,784.1 C543,777.5 560,777.1 570.6,778.7"/>
<path d="M560.9,780.6 C568.5,780 574.9,781 581.2,784.1"/>
<path d="M542.1,786.1 C547.2,781.6 553.6,781.6 557.9,786.1"/>
<path d="M565.1,786.1 C568.5,784.1 572.8,784.3 576.1,786.1"/>
<path d="M528.9,787 L528,791.7 L527.3,796.5 L526.7,801.2 L526.3,805.9 L526.1,810.6 L526,815.4 L525.8,820.1 L525.7,824.8 L525.4,829.5 L525,834.3 L524.5,839 L524,843.7 L523.6,848.5 L523.3,853.2 L523.1,857.9 L523.2,862.6 L523.3,867.4 L523.6,872.1 L523.8,876.8 L523.9,881.5 L523.8,886.3 L523.4,891.3"/>
<path d="M533.1,787 L532.7,791.7 L532.3,796.5 L532.1,801.2 L531.9,805.9 L531.9,810.6 L531.9,815.4 L531.9,820.1 L531.8,824.8 L531.6,829.5 L531.3,834.3 L530.9,839 L530.3,843.7 L529.7,848.5 L529,853.2 L528.3,857.9 L527.7,862.6 L527.3,867.4 L526.9,872.1 L526.7,876.8 L526.6,881.5 L526.4,886.3 L526.2,892"/>
<path d="M537.7,787 L536.9,791.7 L536.2,796.5 L535.7,801.2 L535.3,805.9 L534.9,810.6 L534.4,815.4 L533.7,820.1 L532.9,824.8 L532.2,829.5 L531.7,834.3 L531.6,839 L531.7,843.7 L532.1,848.5 L532.5,853.2 L533,857.9 L533.4,862.6 L533.7,867.4 L534,872.1 L534.2,876.8 L534.2,881.5 L534,886.3 L533.6,892.6"/>
<path d="M543.8,787 L543.3,791.7 L542.9,796.5 L542.6,801.2 L542.5,805.9 L542.7,810.6 L543.2,815.4 L543.8,820.1 L544.4,824.8 L544.7,829.5 L544.3,834.3 L543.3,839 L541.8,843.7 L540.1,848.5 L538.6,853.2 L537.6,857.9 L536.9,862.6 L536.5,867.4 L536.1,872.1 L535.8,876.8 L535.9,881.5 L536.5,886.3 L537,893.2"/>
<path d="M545.9,787 L545.7,791.7 L545.6,796.5 L545.7,801.2 L545.9,805.9 L546.1,810.6 L546.4,815.4 L546.5,820.1 L546.6,824.8 L546.6,829.5 L546.3,834.3 L546,839 L545.6,843.7 L545.2,848.5 L545.1,853.2 L545,857.9 L545,862.6 L544.5,867.4 L543.2,872.1 L541.5,876.8 L540.5,881.5 L540.7,886.3 L541.2,893.7"/>
<path d="M553.2,787 L552.6,791.7 L551.7,796.5 L550.8,801.2 L550.2,805.9 L550,810.6 L550.1,815.4 L550.4,820.1 L550.6,824.8 L550.7,829.5 L550.6,834.3 L550.4,839 L549.9,843.7 L549.3,848.5 L548.6,853.2 L547.9,857.9 L547.2,862.6 L547,867.4 L547.5,872.1 L548.5,876.8 L548.9,881.5 L548.4,886.3 L547.6,894.1"/>
<path d="M556.1,787 L555.6,791.7 L554.9,796.5 L554.2,801.2 L554,805.9 L554.4,810.6 L555.1,815.4 L555.6,820.1 L555.6,824.8 L555.2,829.5 L554.6,834.3 L554,839 L553.4,843.7 L553.1,848.5 L552.9,853.2 L552.9,857.9 L552.9,862.6 L552.9,867.4 L553,872.1 L553,876.8 L552.7,881.5 L552.1,886.3 L551.5,894.3"/>
<path d="M560.9,787 L561.6,791.7 L562.3,796.5 L562.9,801.2 L562.9,805.9 L562.3,810.6 L561.2,815.4 L560.1,820.1 L559.3,824.8 L558.9,829.5 L558.8,834.3 L559,839 L559.3,843.7 L559.6,848.5 L559.9,853.2 L560,857.9 L559.9,862.6 L559.6,867.4 L559.1,872.1 L558.4,876.8 L557.8,881.5 L557.2,886.3 L556.8,894.5"/>
<path d="M565.9,787 L566.5,791.7 L567.1,796.5 L567.6,801.2 L567.6,805.9 L567.3,810.6 L566.6,815.4 L565.7,820.1 L564.7,824.8 L563.7,829.5 L562.8,834.3 L562.1,839 L561.7,843.7 L561.5,848.5 L561.7,853.2 L561.9,857.9 L562.1,862.6 L562.1,867.4 L562,872.1 L561.6,876.8 L561.2,881.5 L560.9,886.3 L560.6,894.5"/>
<path d="M569.3,787 L568.8,791.7 L568.5,796.5 L568.5,801.2 L568.6,805.9 L568.8,810.6 L568.9,815.4 L568.8,820.1 L568.4,824.8 L567.6,829.5 L566.7,834.3 L565.7,839 L565,843.7 L564.7,848.5 L564.9,853.2 L565.6,857.9 L566.5,862.6 L567.5,867.4 L568.3,872.1 L568.9,876.8 L569.1,881.5 L569,886.3 L568.5,894.3"/>
<path d="M576.5,787 L576.8,791.7 L577,796.5 L577,801.2 L576.8,805.9 L576.4,810.6 L576,815.4 L575.6,820.1 L575.4,824.8 L575.5,829.5 L575.7,834.3 L576.1,839 L576.4,843.7 L576.5,848.5 L576.3,853.2 L575.8,857.9 L575,862.6 L574.2,867.4 L573.3,872.1 L572.6,876.8 L572.1,881.5 L571.8,886.3 L571.8,894.1"/>
<path d="M580.1,787 L580,791.7 L579.9,796.5 L579.6,801.2 L579.1,805.9 L578.7,810.6 L578.3,815.4 L578,820.1 L577.9,824.8 L578.1,829.5 L578.6,834.3 L579.2,839 L579.8,843.7 L580.3,848.5 L580.6,853.2 L580.7,857.9 L580.5,862.6 L580.2,867.4 L579.7,872.1 L579.3,876.8 L578.8,881.5 L578.5,886.3 L578.4,893.7"/>
<path d="M586.5,787 L586.4,791.7 L586.1,796.5 L585.5,801.2 L584.7,805.9 L583.9,810.6 L583.2,815.4 L582.9,820.1 L583,824.8 L583.2,829.5 L583.5,834.3 L583.6,839 L583.6,843.7 L583.4,848.5 L583.1,853.2 L582.7,857.9 L582.3,862.6 L581.9,867.4 L581.7,872.1 L581.7,876.8 L582,881.5 L582.4,886.3 L582.9,893.2"/>
<path d="M589.7,787 L589.5,791.7 L589.2,796.5 L588.7,801.2 L588.1,805.9 L587.4,810.6 L587,815.4 L587.2,820.1 L587.9,824.8 L588.8,829.5 L589.5,834.3 L589.6,839 L589.2,843.7 L588.6,848.5 L588,853.2 L587.4,857.9 L587,862.6 L586.8,867.4 L586.9,872.1 L587.1,876.8 L587.3,881.5 L587.6,886.3 L587.8,892.6"/>
<path d="M593.9,787 L593.9,791.7 L594.1,796.5 L594.6,801.2 L595.2,805.9 L595.9,810.6 L596.2,815.4 L595.9,820.1 L594.9,824.8 L593.8,829.5 L592.8,834.3 L592.3,839 L592.2,843.7 L592.5,848.5 L593,853.2 L593.6,857.9 L594.1,862.6 L594.6,867.4 L594.8,872.1 L594.8,876.8 L594.7,881.5 L594.4,886.3 L594.1,892"/>
<path d="M598,787 L597.6,791.7 L597.4,796.5 L597.5,801.2 L597.8,805.9 L598.2,810.6 L598.6,815.4 L598.8,820.1 L598.8,824.8 L598.5,829.5 L598.2,834.3 L598,839 L597.8,843.7 L597.8,848.5 L598,853.2 L598.3,857.9 L598.8,862.6 L599.4,867.4 L599.8,872.1 L600.2,876.8 L600.4,881.5 L600.3,886.3 L600,891.3"/>
<path d="M541.4,816.7 Q546.2,833.8 541.4,850.9 Q536.6,833.8 541.4,816.7 Z"/>
<path d="M557.8,792.4 Q562.3,805.7 557.8,819 Q553.3,805.7 557.8,792.4 Z"/>
<path d="M571.2,826.4 Q576.6,847.3 571.2,868.2 Q565.8,847.3 571.2,826.4 Z"/>
<path d="M591.3,804.9 Q595.5,818.2 591.3,831.5 Q587.1,818.2 591.3,804.9 Z"/>
<path d="M548.9,871.1 Q553.4,880.6 548.9,890.1 Q544.4,880.6 548.9,871.1 Z"/>
</g>
<g fill="#fff" stroke="#151515" stroke-width="1.2" stroke-linejoin="round">
<path d="M444.4,763.1 C450,762.5 458,765 464,771 C467.5,775 469.5,779 469.9,783.2 C466,777.5 461,772.5 455,769.5 C451,767.5 447,766 444.4,763.1 Z"/>
<path d="M476.6,776.5 L489.4,775.8 L505.5,855.7 L497.5,836 L491.4,833 L491.8,819 L489.8,816.7 Z"/>
<path d="M445.7,803.3 L453.8,802.7 L455,805 L514.2,891.5 L511.2,892 L445.2,807.8 Z"/>
<path d="M441,878.5 L500.8,881.2 L509.5,888.8 L441.5,890 Z"/>
</g>
<g fill="none" stroke="#151515" stroke-width="0.6">
<path d="M447.5,764.5 C454,766.5 461,771.5 466.5,779"/><path d="M449,765.5 C452,767.5 455,768 458,770"/><path d="M480,778 L497,840"/><path d="M483,777.5 L500,845"/><path d="M486.5,777 L502,849"/>
<path d="M449,806 L508,888"/><path d="M447,808 C470,835 480,845 506,889"/><path d="M446,806.5 L454.5,804.5"/><path d="M452,818 C456,820 459,823 461,826"/>
<path d="M443,882 L498,884"/><path d="M443,885.5 L503,886.5"/><path d="M460,883 C475,882 485,884 495,883"/><path d="M478,882.5 L492,882" stroke-width="1.6"/>
</g></g>
<g transform="translate(408 -0.5)"><path fill="#fff" stroke="#151515" stroke-width="1.7" d="M516.6,780.5 L515.5,891.9 Q556,900 602.8,891.9 L602.8,786.1 Z"/>
<path fill="#fff" stroke="#151515" stroke-width="1.7" d="M516.6,780.5 C524,770 538,765 555.8,765 C578,765 596,772 602.8,786.1 L524.3,786.1 Z"/>
<line x1="524.3" y1="786.1" x2="515.8" y2="891" stroke="#151515" stroke-width="1.2"/>
<g fill="none" stroke="#151515" stroke-width="1.05">
<path d="M528.5,786.1 A31.4,13.5 0 0 1 591.5,786.1"/>
<line x1="518.8" y1="781.9" x2="530.2" y2="783.4"/>
<line x1="527.8" y1="773.2" x2="536.6" y2="777.7"/>
<line x1="552.7" y1="766.3" x2="554.7" y2="773.2"/>
<line x1="579.8" y1="768.4" x2="574.3" y2="774.5"/>
<line x1="595.7" y1="775.5" x2="585.9" y2="779.1"/>
<line x1="600.8" y1="781.2" x2="589.6" y2="782.9"/>
<path d="M555.8,774.6 C566.4,773.8 574.9,775.9 585.5,780"/>
<path d="M534.5,784.1 C543,777.5 560,777.1 570.6,778.7"/>
<path d="M560.9,780.6 C568.5,780 574.9,781 581.2,784.1"/>
<path d="M542.1,786.1 C547.2,781.6 553.6,781.6 557.9,786.1"/>
<path d="M565.1,786.1 C568.5,784.1 572.8,784.3 576.1,786.1"/>
<path d="M528.9,787 L528,791.7 L527.3,796.5 L526.7,801.2 L526.3,805.9 L526.1,810.6 L526,815.4 L525.8,820.1 L525.7,824.8 L525.4,829.5 L525,834.3 L524.5,839 L524,843.7 L523.6,848.5 L523.3,853.2 L523.1,857.9 L523.2,862.6 L523.3,867.4 L523.6,872.1 L523.8,876.8 L523.9,881.5 L523.8,886.3 L523.4,891.3"/>
<path d="M533.1,787 L532.7,791.7 L532.3,796.5 L532.1,801.2 L531.9,805.9 L531.9,810.6 L531.9,815.4 L531.9,820.1 L531.8,824.8 L531.6,829.5 L531.3,834.3 L530.9,839 L530.3,843.7 L529.7,848.5 L529,853.2 L528.3,857.9 L527.7,862.6 L527.3,867.4 L526.9,872.1 L526.7,876.8 L526.6,881.5 L526.4,886.3 L526.2,892"/>
<path d="M537.7,787 L536.9,791.7 L536.2,796.5 L535.7,801.2 L535.3,805.9 L534.9,810.6 L534.4,815.4 L533.7,820.1 L532.9,824.8 L532.2,829.5 L531.7,834.3 L531.6,839 L531.7,843.7 L532.1,848.5 L532.5,853.2 L533,857.9 L533.4,862.6 L533.7,867.4 L534,872.1 L534.2,876.8 L534.2,881.5 L534,886.3 L533.6,892.6"/>
<path d="M543.8,787 L543.3,791.7 L542.9,796.5 L542.6,801.2 L542.5,805.9 L542.7,810.6 L543.2,815.4 L543.8,820.1 L544.4,824.8 L544.7,829.5 L544.3,834.3 L543.3,839 L541.8,843.7 L540.1,848.5 L538.6,853.2 L537.6,857.9 L536.9,862.6 L536.5,867.4 L536.1,872.1 L535.8,876.8 L535.9,881.5 L536.5,886.3 L537,893.2"/>
<path d="M545.9,787 L545.7,791.7 L545.6,796.5 L545.7,801.2 L545.9,805.9 L546.1,810.6 L546.4,815.4 L546.5,820.1 L546.6,824.8 L546.6,829.5 L546.3,834.3 L546,839 L545.6,843.7 L545.2,848.5 L545.1,853.2 L545,857.9 L545,862.6 L544.5,867.4 L543.2,872.1 L541.5,876.8 L540.5,881.5 L540.7,886.3 L541.2,893.7"/>
<path d="M553.2,787 L552.6,791.7 L551.7,796.5 L550.8,801.2 L550.2,805.9 L550,810.6 L550.1,815.4 L550.4,820.1 L550.6,824.8 L550.7,829.5 L550.6,834.3 L550.4,839 L549.9,843.7 L549.3,848.5 L548.6,853.2 L547.9,857.9 L547.2,862.6 L547,867.4 L547.5,872.1 L548.5,876.8 L548.9,881.5 L548.4,886.3 L547.6,894.1"/>
<path d="M556.1,787 L555.6,791.7 L554.9,796.5 L554.2,801.2 L554,805.9 L554.4,810.6 L555.1,815.4 L555.6,820.1 L555.6,824.8 L555.2,829.5 L554.6,834.3 L554,839 L553.4,843.7 L553.1,848.5 L552.9,853.2 L552.9,857.9 L552.9,862.6 L552.9,867.4 L553,872.1 L553,876.8 L552.7,881.5 L552.1,886.3 L551.5,894.3"/>
<path d="M560.9,787 L561.6,791.7 L562.3,796.5 L562.9,801.2 L562.9,805.9 L562.3,810.6 L561.2,815.4 L560.1,820.1 L559.3,824.8 L558.9,829.5 L558.8,834.3 L559,839 L559.3,843.7 L559.6,848.5 L559.9,853.2 L560,857.9 L559.9,862.6 L559.6,867.4 L559.1,872.1 L558.4,876.8 L557.8,881.5 L557.2,886.3 L556.8,894.5"/>
<path d="M565.9,787 L566.5,791.7 L567.1,796.5 L567.6,801.2 L567.6,805.9 L567.3,810.6 L566.6,815.4 L565.7,820.1 L564.7,824.8 L563.7,829.5 L562.8,834.3 L562.1,839 L561.7,843.7 L561.5,848.5 L561.7,853.2 L561.9,857.9 L562.1,862.6 L562.1,867.4 L562,872.1 L561.6,876.8 L561.2,881.5 L560.9,886.3 L560.6,894.5"/>
<path d="M569.3,787 L568.8,791.7 L568.5,796.5 L568.5,801.2 L568.6,805.9 L568.8,810.6 L568.9,815.4 L568.8,820.1 L568.4,824.8 L567.6,829.5 L566.7,834.3 L565.7,839 L565,843.7 L564.7,848.5 L564.9,853.2 L565.6,857.9 L566.5,862.6 L567.5,867.4 L568.3,872.1 L568.9,876.8 L569.1,881.5 L569,886.3 L568.5,894.3"/>
<path d="M576.5,787 L576.8,791.7 L577,796.5 L577,801.2 L576.8,805.9 L576.4,810.6 L576,815.4 L575.6,820.1 L575.4,824.8 L575.5,829.5 L575.7,834.3 L576.1,839 L576.4,843.7 L576.5,848.5 L576.3,853.2 L575.8,857.9 L575,862.6 L574.2,867.4 L573.3,872.1 L572.6,876.8 L572.1,881.5 L571.8,886.3 L571.8,894.1"/>
<path d="M580.1,787 L580,791.7 L579.9,796.5 L579.6,801.2 L579.1,805.9 L578.7,810.6 L578.3,815.4 L578,820.1 L577.9,824.8 L578.1,829.5 L578.6,834.3 L579.2,839 L579.8,843.7 L580.3,848.5 L580.6,853.2 L580.7,857.9 L580.5,862.6 L580.2,867.4 L579.7,872.1 L579.3,876.8 L578.8,881.5 L578.5,886.3 L578.4,893.7"/>
<path d="M586.5,787 L586.4,791.7 L586.1,796.5 L585.5,801.2 L584.7,805.9 L583.9,810.6 L583.2,815.4 L582.9,820.1 L583,824.8 L583.2,829.5 L583.5,834.3 L583.6,839 L583.6,843.7 L583.4,848.5 L583.1,853.2 L582.7,857.9 L582.3,862.6 L581.9,867.4 L581.7,872.1 L581.7,876.8 L582,881.5 L582.4,886.3 L582.9,893.2"/>
<path d="M589.7,787 L589.5,791.7 L589.2,796.5 L588.7,801.2 L588.1,805.9 L587.4,810.6 L587,815.4 L587.2,820.1 L587.9,824.8 L588.8,829.5 L589.5,834.3 L589.6,839 L589.2,843.7 L588.6,848.5 L588,853.2 L587.4,857.9 L587,862.6 L586.8,867.4 L586.9,872.1 L587.1,876.8 L587.3,881.5 L587.6,886.3 L587.8,892.6"/>
<path d="M593.9,787 L593.9,791.7 L594.1,796.5 L594.6,801.2 L595.2,805.9 L595.9,810.6 L596.2,815.4 L595.9,820.1 L594.9,824.8 L593.8,829.5 L592.8,834.3 L592.3,839 L592.2,843.7 L592.5,848.5 L593,853.2 L593.6,857.9 L594.1,862.6 L594.6,867.4 L594.8,872.1 L594.8,876.8 L594.7,881.5 L594.4,886.3 L594.1,892"/>
<path d="M598,787 L597.6,791.7 L597.4,796.5 L597.5,801.2 L597.8,805.9 L598.2,810.6 L598.6,815.4 L598.8,820.1 L598.8,824.8 L598.5,829.5 L598.2,834.3 L598,839 L597.8,843.7 L597.8,848.5 L598,853.2 L598.3,857.9 L598.8,862.6 L599.4,867.4 L599.8,872.1 L600.2,876.8 L600.4,881.5 L600.3,886.3 L600,891.3"/>
<path d="M541.4,816.7 Q546.2,833.8 541.4,850.9 Q536.6,833.8 541.4,816.7 Z"/>
<path d="M557.8,792.4 Q562.3,805.7 557.8,819 Q553.3,805.7 557.8,792.4 Z"/>
<path d="M571.2,826.4 Q576.6,847.3 571.2,868.2 Q565.8,847.3 571.2,826.4 Z"/>
<path d="M591.3,804.9 Q595.5,818.2 591.3,831.5 Q587.1,818.2 591.3,804.9 Z"/>
<path d="M548.9,871.1 Q553.4,880.6 548.9,890.1 Q544.4,880.6 548.9,871.1 Z"/>
</g>
<g fill="#fff" stroke="#151515" stroke-width="1.2" stroke-linejoin="round">
<path d="M444.4,763.1 C450,762.5 458,765 464,771 C467.5,775 469.5,779 469.9,783.2 C466,777.5 461,772.5 455,769.5 C451,767.5 447,766 444.4,763.1 Z"/>
<path d="M476.6,776.5 L489.4,775.8 L505.5,855.7 L497.5,836 L491.4,833 L491.8,819 L489.8,816.7 Z"/>
<path d="M445.7,803.3 L453.8,802.7 L455,805 L514.2,891.5 L511.2,892 L445.2,807.8 Z"/>
<path d="M441,878.5 L500.8,881.2 L509.5,888.8 L441.5,890 Z"/>
</g>
<g fill="none" stroke="#151515" stroke-width="0.6">
<path d="M447.5,764.5 C454,766.5 461,771.5 466.5,779"/><path d="M449,765.5 C452,767.5 455,768 458,770"/><path d="M480,778 L497,840"/><path d="M483,777.5 L500,845"/><path d="M486.5,777 L502,849"/>
<path d="M449,806 L508,888"/><path d="M447,808 C470,835 480,845 506,889"/><path d="M446,806.5 L454.5,804.5"/><path d="M452,818 C456,820 459,823 461,826"/>
<path d="M443,882 L498,884"/><path d="M443,885.5 L503,886.5"/><path d="M460,883 C475,882 485,884 495,883"/><path d="M478,882.5 L492,882" stroke-width="1.6"/>
</g></g>
<g><path fill="#fff" stroke="#151515" stroke-width="1.7" d="M1217.4,783.2 L1217.4,889 Q1260.1,894 1302.7,889 L1302.7,783.2 Z"/>
<path fill="#fff" stroke="#151515" stroke-width="1.7" d="M1217.4,783.2 A42.6,20.8 0 0 1 1302.7,783.2 Z"/>
<g fill="none" stroke="#151515" stroke-width="1.05">
<path d="M1228.9,783.2 A31.2,13.4 0 0 1 1291.2,783.2"/>
<line x1="1219.2" y1="779.1" x2="1230.5" y2="780.5"/>
<line x1="1228.1" y1="770.4" x2="1236.9" y2="774.8"/>
<line x1="1252.8" y1="763.6" x2="1254.8" y2="770.4"/>
<line x1="1279.6" y1="765.6" x2="1274.3" y2="771.7"/>
<line x1="1295.4" y1="772.7" x2="1285.7" y2="776.3"/>
<line x1="1300.5" y1="778.4" x2="1289.4" y2="780.1"/>
<path d="M1255.8,771.8 C1266.4,771 1274.8,773 1285.3,777.1"/>
<path d="M1234.8,781.2 C1243.2,774.7 1260.1,774.3 1270.6,775.9"/>
<path d="M1260.9,777.7 C1268.5,777.1 1274.8,778.1 1281.1,781.2"/>
<path d="M1242.3,783.2 C1247.4,778.7 1253.7,778.7 1257.9,783.2"/>
<path d="M1265.1,783.2 C1268.5,781.2 1272.7,781.4 1276.1,783.2"/>
<path d="M1223.6,784.2 L1223.6,788.9 L1223.3,793.6 L1222.9,798.4 L1222.2,803.1 L1221.5,807.8 L1220.8,812.5 L1220.2,817.2 L1219.8,821.9 L1219.5,826.7 L1219.5,831.4 L1219.7,836.1 L1220.1,840.8 L1220.5,845.5 L1220.9,850.3 L1221.2,855 L1221.3,859.7 L1221.3,864.4 L1221.3,869.1 L1221.4,873.8 L1221.6,878.6 L1221.9,883.3 L1222.3,888.2"/>
<path d="M1226.4,784.2 L1226.5,788.9 L1226.5,793.6 L1226.4,798.4 L1226.1,803.1 L1225.7,807.8 L1225.1,812.5 L1224.4,817.2 L1223.8,821.9 L1223.4,826.7 L1223.4,831.4 L1223.8,836.1 L1224.6,840.8 L1225.6,845.5 L1226.6,850.3 L1227.5,855 L1228,859.7 L1228.1,864.4 L1227.9,869.1 L1227.6,873.8 L1227.2,878.6 L1226.9,883.3 L1226.8,888.7"/>
<path d="M1232.4,784.2 L1231.8,788.9 L1231.3,793.6 L1230.8,798.4 L1230.6,803.1 L1230.6,807.8 L1231.1,812.5 L1231.9,817.2 L1232.9,821.9 L1234,826.7 L1234.9,831.4 L1235.4,836.1 L1235.4,840.8 L1235,845.5 L1234.4,850.3 L1233.7,855 L1233.1,859.7 L1232.8,864.4 L1232.7,869.1 L1232.9,873.8 L1233.1,878.6 L1233.4,883.3 L1233.6,889.1"/>
<path d="M1237.6,784.2 L1237.5,788.9 L1237.4,793.6 L1237.5,798.4 L1237.7,803.1 L1238.1,807.8 L1238.5,812.5 L1238.9,817.2 L1239.2,821.9 L1239.4,826.7 L1239.3,831.4 L1238.9,836.1 L1238.2,840.8 L1237.5,845.5 L1236.7,850.3 L1236.1,855 L1235.7,859.7 L1235.3,864.4 L1234.9,869.1 L1234.8,873.8 L1235.2,878.6 L1236,883.3 L1236.7,889.4"/>
<path d="M1242.8,784.2 L1242.7,788.9 L1242.6,793.6 L1242.6,798.4 L1242.6,803.1 L1242.8,807.8 L1243.1,812.5 L1243.4,817.2 L1243.6,821.9 L1243.8,826.7 L1243.7,831.4 L1243.4,836.1 L1242.9,840.8 L1242.4,845.5 L1241.7,850.3 L1241.1,855 L1240.5,859.7 L1239.6,864.4 L1238.3,869.1 L1237.4,873.8 L1237.9,878.6 L1239.6,883.3 L1241.1,889.7"/>
<path d="M1248.2,784.2 L1248.5,788.9 L1248.7,793.6 L1248.5,798.4 L1248.2,803.1 L1247.9,807.8 L1247.7,812.5 L1247.5,817.2 L1247.4,821.9 L1247.3,826.7 L1247.4,831.4 L1247.4,836.1 L1247.5,840.8 L1247.6,845.5 L1247.5,850.3 L1247.3,855 L1247.2,859.7 L1247.3,864.4 L1247.9,869.1 L1248.4,873.8 L1248.1,878.6 L1247.1,883.3 L1246.4,890"/>
<path d="M1252,784.2 L1251.6,788.9 L1250.9,793.6 L1250.2,798.4 L1249.7,803.1 L1249.7,807.8 L1250.1,812.5 L1250.5,817.2 L1250.8,821.9 L1250.8,826.7 L1250.7,831.4 L1250.6,836.1 L1250.8,840.8 L1251.1,845.5 L1251.7,850.3 L1252.3,855 L1252.9,859.7 L1253.6,864.4 L1254.1,869.1 L1254.5,873.8 L1254.4,878.6 L1253.9,883.3 L1253.4,890.2"/>
<path d="M1259.5,784.2 L1260.2,788.9 L1261,793.6 L1261.7,798.4 L1262,803.1 L1261.5,807.8 L1260.4,812.5 L1259.1,817.2 L1258.1,821.9 L1257.4,826.7 L1256.9,831.4 L1256.5,836.1 L1256.1,840.8 L1255.7,845.5 L1255.3,850.3 L1255.1,855 L1254.9,859.7 L1254.9,864.4 L1255.1,869.1 L1255.3,873.8 L1255.7,878.6 L1256.2,883.3 L1256.8,890.2"/>
<path d="M1261.6,784.2 L1262.1,788.9 L1262.6,793.6 L1263.2,798.4 L1263.4,803.1 L1263.3,807.8 L1262.8,812.5 L1262,817.2 L1261.2,821.9 L1260.5,826.7 L1259.9,831.4 L1259.4,836.1 L1259.1,840.8 L1259.2,845.5 L1259.7,850.3 L1260.5,855 L1261.5,859.7 L1262.3,864.4 L1262.9,869.1 L1263.1,873.8 L1263,878.6 L1262.7,883.3 L1262.4,890.2"/>
<path d="M1267.6,784.2 L1267,788.9 L1266.5,793.6 L1266,798.4 L1265.8,803.1 L1265.8,807.8 L1266.1,812.5 L1266.7,817.2 L1267.5,821.9 L1268.5,826.7 L1269.5,831.4 L1270.5,836.1 L1271.3,840.8 L1271.6,845.5 L1271.6,850.3 L1271.2,855 L1270.5,859.7 L1269.9,864.4 L1269.4,869.1 L1269.2,873.8 L1269.1,878.6 L1269.2,883.3 L1269.2,890.2"/>
<path d="M1272.8,784.2 L1273.4,788.9 L1273.8,793.6 L1274.1,798.4 L1274.1,803.1 L1274,807.8 L1273.8,812.5 L1273.6,817.2 L1273.5,821.9 L1273.5,826.7 L1273.7,831.4 L1274,836.1 L1274.4,840.8 L1274.6,845.5 L1274.6,850.3 L1274.3,855 L1273.8,859.7 L1273.1,864.4 L1272.4,869.1 L1271.7,873.8 L1271.2,878.6 L1270.9,883.3 L1270.9,890"/>
<path d="M1277.6,784.2 L1277.6,788.9 L1277.6,793.6 L1277.5,798.4 L1277.4,803.1 L1277.5,807.8 L1277.7,812.5 L1278,817.2 L1278.5,821.9 L1279,826.7 L1279.4,831.4 L1279.7,836.1 L1279.7,840.8 L1279.5,845.5 L1279.1,850.3 L1278.6,855 L1278,859.7 L1277.5,864.4 L1277.1,869.1 L1276.8,873.8 L1276.8,878.6 L1276.8,883.3 L1277,889.7"/>
<path d="M1284.3,784.2 L1284.7,788.9 L1284.7,793.6 L1284.5,798.4 L1284,803.1 L1283.2,807.8 L1282.3,812.5 L1281.5,817.2 L1281.2,821.9 L1281.2,826.7 L1281.6,831.4 L1282,836.1 L1282.4,840.8 L1282.6,845.5 L1282.6,850.3 L1282.5,855 L1282.2,859.7 L1281.8,864.4 L1281.5,869.1 L1281.3,873.8 L1281.3,878.6 L1281.5,883.3 L1281.9,889.4"/>
<path d="M1288.4,784.2 L1288.5,788.9 L1288.6,793.6 L1288.4,798.4 L1288,803.1 L1287.1,807.8 L1285.9,812.5 L1284.7,817.2 L1284.1,821.9 L1284,826.7 L1284.4,831.4 L1285,836.1 L1285.5,840.8 L1286,845.5 L1286.5,850.3 L1287.1,855 L1287.6,859.7 L1288.1,864.4 L1288.4,869.1 L1288.6,873.8 L1288.6,878.6 L1288.6,883.3 L1288.4,889.1"/>
<path d="M1293.8,784.2 L1293.7,788.9 L1293.6,793.6 L1293.8,798.4 L1294.2,803.1 L1294.9,807.8 L1295.6,812.5 L1296,817.2 L1296,821.9 L1295.4,826.7 L1294.5,831.4 L1293.4,836.1 L1292.4,840.8 L1291.7,845.5 L1291.3,850.3 L1291.2,855 L1291.3,859.7 L1291.6,864.4 L1292.1,869.1 L1292.6,873.8 L1293,878.6 L1293.4,883.3 L1293.5,888.7"/>
<path d="M1297.8,784.2 L1297.3,788.9 L1296.9,793.6 L1296.5,798.4 L1296.3,803.1 L1296.4,807.8 L1296.6,812.5 L1297.1,817.2 L1297.7,821.9 L1298.3,826.7 L1298.8,831.4 L1299.2,836.1 L1299.3,840.8 L1299.3,845.5 L1299.2,850.3 L1299,855 L1298.8,859.7 L1298.6,864.4 L1298.6,869.1 L1298.7,873.8 L1298.9,878.6 L1299.1,883.3 L1299.1,888.2"/>
<path d="M1229.2,817.1 Q1233.7,836.1 1229.2,855.1 Q1224.7,836.1 1229.2,817.1 Z"/>
<path d="M1256,791.7 Q1260.5,805 1256,818.3 Q1251.5,805 1256,791.7 Z"/>
<path d="M1264.1,829.6 Q1269.2,848.6 1264.1,867.6 Q1259,848.6 1264.1,829.6 Z"/>
<path d="M1288.5,806.3 Q1292.7,820.5 1288.5,834.8 Q1284.3,820.5 1288.5,806.3 Z"/>
<path d="M1243.8,866 Q1248.3,875.5 1243.8,885 Q1239.3,875.5 1243.8,866 Z"/>
</g>
<g transform="translate(1300 875.9) rotate(-48)">
<path fill="#fff" stroke="#151515" stroke-width="1.7" d="M-4,-30.7 L101.5,-31.7 C110,-25 115,-12 114.7,5 C114,18 110,27 104.3,31.7 L4.1,30.6 Z"/>
<g fill="none" stroke="#151515" stroke-width="0.95">
<path d="M11.8,11 C40,9 80,7 114.2,5.4" stroke-width="1.1"/>
<g transform="rotate(-90)">
<path d="M-1.8,5 L-1.8,9.4 L-1.7,13.7 L-1.5,18.1 L-1.3,22.5 L-1.2,26.8 L-1.1,31.2 L-1.2,35.5 L-1.4,39.9 L-1.8,44.3 L-2.2,48.6 L-2.6,53 L-3,57.4 L-3.3,61.7 L-3.7,66.1 L-3.9,70.5 L-3.9,74.8 L-3.7,79.2 L-3.2,83.5 L-2.7,87.9 L-2.3,92.3 L-2.1,96.6 L-2.1,101"/>
<path d="M0.3,5 L-0.1,9.4 L-0.3,13.7 L-0.5,18.1 L-0.5,22.5 L-0.4,26.8 L-0.2,31.2 L-0.1,35.5 L0.1,39.9 L0.3,44.3 L0.4,48.6 L0.6,53 L0.6,57.4 L0.4,61.7 L-0.1,66.1 L-0.7,70.5 L-1.2,74.8 L-1.1,79.2 L-0.4,83.5 L0.5,87.9 L1.2,92.3 L1.5,96.6 L1.6,101"/>
<path d="M4,5 L4.1,9.4 L4.3,13.7 L4.4,18.1 L4.4,22.5 L4.2,26.8 L3.8,31.2 L3.1,35.5 L2.3,39.9 L1.5,44.3 L1,48.6 L0.9,53 L1.2,57.4 L2,61.7 L3.2,66.1 L4.5,70.5 L5.5,74.8 L5.9,79.2 L5.5,83.5 L4.8,87.9 L4.2,92.3 L3.8,96.6 L3.6,101"/>
<path d="M5.7,5 L5.6,9.4 L5.5,13.7 L5.5,18.1 L5.6,22.5 L5.7,26.8 L5.6,31.2 L5.3,35.5 L5,39.9 L4.6,44.3 L4.5,48.6 L4.8,53 L5.3,57.4 L5.9,61.7 L6.7,66.1 L7.4,70.5 L7.9,74.8 L7.9,79.2 L7.7,83.5 L7.3,87.9 L7,92.3 L6.7,96.6 L6.5,101"/>
<path d="M9.8,5 L9.6,9.4 L9.3,13.7 L9,18.1 L8.8,22.5 L8.8,26.8 L9.1,31.2 L9.7,35.5 L10.5,39.9 L11.3,44.3 L11.8,48.6 L11.9,53 L11.7,57.4 L11.3,61.7 L10.8,66.1 L10.5,70.5 L10.1,74.8 L9.8,79.2 L9.6,83.5 L9.6,87.9 L9.7,92.3 L9.9,96.6 L10.1,101"/>
<path d="M12.6,5 L12.6,9.4 L12.5,13.7 L12.3,18.1 L12.2,22.5 L12.3,26.8 L12.7,31.2 L13.4,35.5 L14.1,39.9 L14.7,44.3 L14.9,48.6 L14.7,53 L14.2,57.4 L13.4,61.7 L12.6,66.1 L11.8,70.5 L10.8,74.8 L9.9,79.2 L9.7,83.5 L10.2,87.9 L11,92.3 L11.5,96.6 L11.8,101"/>
<path d="M14.9,5 L14.9,9.4 L14.7,13.7 L14.2,18.1 L13.5,22.5 L12.9,26.8 L12.8,31.2 L13.2,35.5 L13.9,39.9 L14.5,44.3 L15,48.6 L15.4,53 L15.7,57.4 L15.9,61.7 L16,66.1 L15.7,70.5 L14.9,74.8 L13.8,79.2 L13.5,83.5 L14.1,87.9 L14.8,92.3 L15.1,96.6 L15.2,101"/>
<path d="M17.7,5 L17.6,9.4 L17.3,13.7 L16.6,18.1 L15.6,22.5 L14.9,26.8 L15,31.2 L15.8,35.5 L17,39.9 L18,44.3 L18.6,48.6 L19,53 L19.2,57.4 L19.3,61.7 L19.2,66.1 L19.2,70.5 L19.5,74.8 L19.8,79.2 L19.5,83.5 L18.7,87.9 L17.9,92.3 L17.6,96.6 L17.5,101"/>
<path d="M21.8,5 L22.1,9.4 L22.4,13.7 L22.8,18.1 L23.3,22.5 L23.5,26.8 L23.1,31.2 L22.2,35.5 L21.1,39.9 L20.4,44.3 L20.1,48.6 L20,53 L20.1,57.4 L20.3,61.7 L20.5,66.1 L20.6,70.5 L20.8,74.8 L21,79.2 L20.9,83.5 L20.6,87.9 L20.4,92.3 L20.4,96.6 L20.5,101"/>
<path d="M23.2,5 L23.5,9.4 L23.9,13.7 L24.5,18.1 L25.1,22.5 L25.6,26.8 L25.8,31.2 L25.6,35.5 L25.2,39.9 L24.7,44.3 L24.3,48.6 L23.9,53 L23.6,57.4 L23.4,61.7 L23.3,66.1 L23.3,70.5 L23.4,74.8 L23.4,79.2 L23.5,83.5 L23.5,87.9 L23.3,92.3 L23.2,96.6 L23,101"/>
<path d="M25.7,5 L25.7,9.4 L25.8,13.7 L26.1,18.1 L26.5,22.5 L26.9,26.8 L27.3,31.2 L27.6,35.5 L27.7,39.9 L27.7,44.3 L27.6,48.6 L27.4,53 L27.1,57.4 L26.8,61.7 L26.6,66.1 L26.5,70.5 L26.5,74.8 L26.5,79.2 L26.6,83.5 L26.6,87.9 L26.6,92.3 L26.4,96.6 L26.2,101"/>
<path d="M7.5,33 Q11.4,48.2 7.5,63.4 Q3.6,48.2 7.5,33 Z"/>
<path d="M18.5,18.6 Q21.8,29 18.5,39.5 Q15.2,29 18.5,18.6 Z"/>
<path d="M2.8,65.6 Q6.1,77 2.8,88.4 Q-0.5,77 2.8,65.6 Z"/>
<path d="M15.4,73.3 Q18.4,81.8 15.4,90.4 Q12.4,81.8 15.4,73.3 Z"/>
</g>
<path d="M18,14 L40,13.5 C43,13.5 43,11 46,11 L70,10.8 C73,10.8 73,8.5 76,8.5 L96,8"/>
<path d="M22,20 L52,19.5 C55,19.5 55,17 58,17 L86,16.5 C89,16.5 89,14.5 92,14.5 L104,14"/>
<path d="M12,26.5 L34,26.2 C37,26.2 37,24 40,24 L66,23.5 M74,23.3 L100,23"/>
<path d="M8,29 L20,28.8" />
</g>
<g transform="rotate(-7.5)"><ellipse cx="-0.5" cy="0" rx="6.5" ry="31.5" fill="#fff" stroke="#151515" stroke-width="1.7"/>
<g fill="none" stroke="#151515" stroke-width="0.9"><path d="M-3,-24 C-5,-12 -4,8 -1,24"/><path d="M1,-26 C3,-14 3.5,10 2,25"/><ellipse cx="-0.5" cy="2" rx="2.8" ry="13"/><ellipse cx="-0.5" cy="3" rx="1.2" ry="5"/><path d="M-4,-14 L2,-9 M-4,11 L2,15 M-3,-3 L3,0 M-2,18 L3,21"/></g></g>
</g></g>
<g transform="translate(355 0)"><path fill="#fff" stroke="#151515" stroke-width="1.7" d="M1217.4,783.2 L1217.4,889 Q1260.1,894 1302.7,889 L1302.7,783.2 Z"/>
<path fill="#fff" stroke="#151515" stroke-width="1.7" d="M1217.4,783.2 A42.6,20.8 0 0 1 1302.7,783.2 Z"/>
<g fill="none" stroke="#151515" stroke-width="1.05">
<path d="M1228.9,783.2 A31.2,13.4 0 0 1 1291.2,783.2"/>
<line x1="1219.2" y1="779.1" x2="1230.5" y2="780.5"/>
<line x1="1228.1" y1="770.4" x2="1236.9" y2="774.8"/>
<line x1="1252.8" y1="763.6" x2="1254.8" y2="770.4"/>
<line x1="1279.6" y1="765.6" x2="1274.3" y2="771.7"/>
<line x1="1295.4" y1="772.7" x2="1285.7" y2="776.3"/>
<line x1="1300.5" y1="778.4" x2="1289.4" y2="780.1"/>
<path d="M1255.8,771.8 C1266.4,771 1274.8,773 1285.3,777.1"/>
<path d="M1234.8,781.2 C1243.2,774.7 1260.1,774.3 1270.6,775.9"/>
<path d="M1260.9,777.7 C1268.5,777.1 1274.8,778.1 1281.1,781.2"/>
<path d="M1242.3,783.2 C1247.4,778.7 1253.7,778.7 1257.9,783.2"/>
<path d="M1265.1,783.2 C1268.5,781.2 1272.7,781.4 1276.1,783.2"/>
<path d="M1223.6,784.2 L1223.6,788.9 L1223.3,793.6 L1222.9,798.4 L1222.2,803.1 L1221.5,807.8 L1220.8,812.5 L1220.2,817.2 L1219.8,821.9 L1219.5,826.7 L1219.5,831.4 L1219.7,836.1 L1220.1,840.8 L1220.5,845.5 L1220.9,850.3 L1221.2,855 L1221.3,859.7 L1221.3,864.4 L1221.3,869.1 L1221.4,873.8 L1221.6,878.6 L1221.9,883.3 L1222.3,888.2"/>
<path d="M1226.4,784.2 L1226.5,788.9 L1226.5,793.6 L1226.4,798.4 L1226.1,803.1 L1225.7,807.8 L1225.1,812.5 L1224.4,817.2 L1223.8,821.9 L1223.4,826.7 L1223.4,831.4 L1223.8,836.1 L1224.6,840.8 L1225.6,845.5 L1226.6,850.3 L1227.5,855 L1228,859.7 L1228.1,864.4 L1227.9,869.1 L1227.6,873.8 L1227.2,878.6 L1226.9,883.3 L1226.8,888.7"/>
<path d="M1232.4,784.2 L1231.8,788.9 L1231.3,793.6 L1230.8,798.4 L1230.6,803.1 L1230.6,807.8 L1231.1,812.5 L1231.9,817.2 L1232.9,821.9 L1234,826.7 L1234.9,831.4 L1235.4,836.1 L1235.4,840.8 L1235,845.5 L1234.4,850.3 L1233.7,855 L1233.1,859.7 L1232.8,864.4 L1232.7,869.1 L1232.9,873.8 L1233.1,878.6 L1233.4,883.3 L1233.6,889.1"/>
<path d="M1237.6,784.2 L1237.5,788.9 L1237.4,793.6 L1237.5,798.4 L1237.7,803.1 L1238.1,807.8 L1238.5,812.5 L1238.9,817.2 L1239.2,821.9 L1239.4,826.7 L1239.3,831.4 L1238.9,836.1 L1238.2,840.8 L1237.5,845.5 L1236.7,850.3 L1236.1,855 L1235.7,859.7 L1235.3,864.4 L1234.9,869.1 L1234.8,873.8 L1235.2,878.6 L1236,883.3 L1236.7,889.4"/>
<path d="M1242.8,784.2 L1242.7,788.9 L1242.6,793.6 L1242.6,798.4 L1242.6,803.1 L1242.8,807.8 L1243.1,812.5 L1243.4,817.2 L1243.6,821.9 L1243.8,826.7 L1243.7,831.4 L1243.4,836.1 L1242.9,840.8 L1242.4,845.5 L1241.7,850.3 L1241.1,855 L1240.5,859.7 L1239.6,864.4 L1238.3,869.1 L1237.4,873.8 L1237.9,878.6 L1239.6,883.3 L1241.1,889.7"/>
<path d="M1248.2,784.2 L1248.5,788.9 L1248.7,793.6 L1248.5,798.4 L1248.2,803.1 L1247.9,807.8 L1247.7,812.5 L1247.5,817.2 L1247.4,821.9 L1247.3,826.7 L1247.4,831.4 L1247.4,836.1 L1247.5,840.8 L1247.6,845.5 L1247.5,850.3 L1247.3,855 L1247.2,859.7 L1247.3,864.4 L1247.9,869.1 L1248.4,873.8 L1248.1,878.6 L1247.1,883.3 L1246.4,890"/>
<path d="M1252,784.2 L1251.6,788.9 L1250.9,793.6 L1250.2,798.4 L1249.7,803.1 L1249.7,807.8 L1250.1,812.5 L1250.5,817.2 L1250.8,821.9 L1250.8,826.7 L1250.7,831.4 L1250.6,836.1 L1250.8,840.8 L1251.1,845.5 L1251.7,850.3 L1252.3,855 L1252.9,859.7 L1253.6,864.4 L1254.1,869.1 L1254.5,873.8 L1254.4,878.6 L1253.9,883.3 L1253.4,890.2"/>
<path d="M1259.5,784.2 L1260.2,788.9 L1261,793.6 L1261.7,798.4 L1262,803.1 L1261.5,807.8 L1260.4,812.5 L1259.1,817.2 L1258.1,821.9 L1257.4,826.7 L1256.9,831.4 L1256.5,836.1 L1256.1,840.8 L1255.7,845.5 L1255.3,850.3 L1255.1,855 L1254.9,859.7 L1254.9,864.4 L1255.1,869.1 L1255.3,873.8 L1255.7,878.6 L1256.2,883.3 L1256.8,890.2"/>
<path d="M1261.6,784.2 L1262.1,788.9 L1262.6,793.6 L1263.2,798.4 L1263.4,803.1 L1263.3,807.8 L1262.8,812.5 L1262,817.2 L1261.2,821.9 L1260.5,826.7 L1259.9,831.4 L1259.4,836.1 L1259.1,840.8 L1259.2,845.5 L1259.7,850.3 L1260.5,855 L1261.5,859.7 L1262.3,864.4 L1262.9,869.1 L1263.1,873.8 L1263,878.6 L1262.7,883.3 L1262.4,890.2"/>
<path d="M1267.6,784.2 L1267,788.9 L1266.5,793.6 L1266,798.4 L1265.8,803.1 L1265.8,807.8 L1266.1,812.5 L1266.7,817.2 L1267.5,821.9 L1268.5,826.7 L1269.5,831.4 L1270.5,836.1 L1271.3,840.8 L1271.6,845.5 L1271.6,850.3 L1271.2,855 L1270.5,859.7 L1269.9,864.4 L1269.4,869.1 L1269.2,873.8 L1269.1,878.6 L1269.2,883.3 L1269.2,890.2"/>
<path d="M1272.8,784.2 L1273.4,788.9 L1273.8,793.6 L1274.1,798.4 L1274.1,803.1 L1274,807.8 L1273.8,812.5 L1273.6,817.2 L1273.5,821.9 L1273.5,826.7 L1273.7,831.4 L1274,836.1 L1274.4,840.8 L1274.6,845.5 L1274.6,850.3 L1274.3,855 L1273.8,859.7 L1273.1,864.4 L1272.4,869.1 L1271.7,873.8 L1271.2,878.6 L1270.9,883.3 L1270.9,890"/>
<path d="M1277.6,784.2 L1277.6,788.9 L1277.6,793.6 L1277.5,798.4 L1277.4,803.1 L1277.5,807.8 L1277.7,812.5 L1278,817.2 L1278.5,821.9 L1279,826.7 L1279.4,831.4 L1279.7,836.1 L1279.7,840.8 L1279.5,845.5 L1279.1,850.3 L1278.6,855 L1278,859.7 L1277.5,864.4 L1277.1,869.1 L1276.8,873.8 L1276.8,878.6 L1276.8,883.3 L1277,889.7"/>
<path d="M1284.3,784.2 L1284.7,788.9 L1284.7,793.6 L1284.5,798.4 L1284,803.1 L1283.2,807.8 L1282.3,812.5 L1281.5,817.2 L1281.2,821.9 L1281.2,826.7 L1281.6,831.4 L1282,836.1 L1282.4,840.8 L1282.6,845.5 L1282.6,850.3 L1282.5,855 L1282.2,859.7 L1281.8,864.4 L1281.5,869.1 L1281.3,873.8 L1281.3,878.6 L1281.5,883.3 L1281.9,889.4"/>
<path d="M1288.4,784.2 L1288.5,788.9 L1288.6,793.6 L1288.4,798.4 L1288,803.1 L1287.1,807.8 L1285.9,812.5 L1284.7,817.2 L1284.1,821.9 L1284,826.7 L1284.4,831.4 L1285,836.1 L1285.5,840.8 L1286,845.5 L1286.5,850.3 L1287.1,855 L1287.6,859.7 L1288.1,864.4 L1288.4,869.1 L1288.6,873.8 L1288.6,878.6 L1288.6,883.3 L1288.4,889.1"/>
<path d="M1293.8,784.2 L1293.7,788.9 L1293.6,793.6 L1293.8,798.4 L1294.2,803.1 L1294.9,807.8 L1295.6,812.5 L1296,817.2 L1296,821.9 L1295.4,826.7 L1294.5,831.4 L1293.4,836.1 L1292.4,840.8 L1291.7,845.5 L1291.3,850.3 L1291.2,855 L1291.3,859.7 L1291.6,864.4 L1292.1,869.1 L1292.6,873.8 L1293,878.6 L1293.4,883.3 L1293.5,888.7"/>
<path d="M1297.8,784.2 L1297.3,788.9 L1296.9,793.6 L1296.5,798.4 L1296.3,803.1 L1296.4,807.8 L1296.6,812.5 L1297.1,817.2 L1297.7,821.9 L1298.3,826.7 L1298.8,831.4 L1299.2,836.1 L1299.3,840.8 L1299.3,845.5 L1299.2,850.3 L1299,855 L1298.8,859.7 L1298.6,864.4 L1298.6,869.1 L1298.7,873.8 L1298.9,878.6 L1299.1,883.3 L1299.1,888.2"/>
<path d="M1229.2,817.1 Q1233.7,836.1 1229.2,855.1 Q1224.7,836.1 1229.2,817.1 Z"/>
<path d="M1256,791.7 Q1260.5,805 1256,818.3 Q1251.5,805 1256,791.7 Z"/>
<path d="M1264.1,829.6 Q1269.2,848.6 1264.1,867.6 Q1259,848.6 1264.1,829.6 Z"/>
<path d="M1288.5,806.3 Q1292.7,820.5 1288.5,834.8 Q1284.3,820.5 1288.5,806.3 Z"/>
<path d="M1243.8,866 Q1248.3,875.5 1243.8,885 Q1239.3,875.5 1243.8,866 Z"/>
</g>
<g transform="translate(1300 875.9) rotate(-48)">
<path fill="#fff" stroke="#151515" stroke-width="1.7" d="M-4,-30.7 L101.5,-31.7 C110,-25 115,-12 114.7,5 C114,18 110,27 104.3,31.7 L4.1,30.6 Z"/>
<g fill="none" stroke="#151515" stroke-width="0.95">
<path d="M11.8,11 C40,9 80,7 114.2,5.4" stroke-width="1.1"/>
<g transform="rotate(-90)">
<path d="M-1.8,5 L-1.8,9.4 L-1.7,13.7 L-1.5,18.1 L-1.3,22.5 L-1.2,26.8 L-1.1,31.2 L-1.2,35.5 L-1.4,39.9 L-1.8,44.3 L-2.2,48.6 L-2.6,53 L-3,57.4 L-3.3,61.7 L-3.7,66.1 L-3.9,70.5 L-3.9,74.8 L-3.7,79.2 L-3.2,83.5 L-2.7,87.9 L-2.3,92.3 L-2.1,96.6 L-2.1,101"/>
<path d="M0.3,5 L-0.1,9.4 L-0.3,13.7 L-0.5,18.1 L-0.5,22.5 L-0.4,26.8 L-0.2,31.2 L-0.1,35.5 L0.1,39.9 L0.3,44.3 L0.4,48.6 L0.6,53 L0.6,57.4 L0.4,61.7 L-0.1,66.1 L-0.7,70.5 L-1.2,74.8 L-1.1,79.2 L-0.4,83.5 L0.5,87.9 L1.2,92.3 L1.5,96.6 L1.6,101"/>
<path d="M4,5 L4.1,9.4 L4.3,13.7 L4.4,18.1 L4.4,22.5 L4.2,26.8 L3.8,31.2 L3.1,35.5 L2.3,39.9 L1.5,44.3 L1,48.6 L0.9,53 L1.2,57.4 L2,61.7 L3.2,66.1 L4.5,70.5 L5.5,74.8 L5.9,79.2 L5.5,83.5 L4.8,87.9 L4.2,92.3 L3.8,96.6 L3.6,101"/>
<path d="M5.7,5 L5.6,9.4 L5.5,13.7 L5.5,18.1 L5.6,22.5 L5.7,26.8 L5.6,31.2 L5.3,35.5 L5,39.9 L4.6,44.3 L4.5,48.6 L4.8,53 L5.3,57.4 L5.9,61.7 L6.7,66.1 L7.4,70.5 L7.9,74.8 L7.9,79.2 L7.7,83.5 L7.3,87.9 L7,92.3 L6.7,96.6 L6.5,101"/>
<path d="M9.8,5 L9.6,9.4 L9.3,13.7 L9,18.1 L8.8,22.5 L8.8,26.8 L9.1,31.2 L9.7,35.5 L10.5,39.9 L11.3,44.3 L11.8,48.6 L11.9,53 L11.7,57.4 L11.3,61.7 L10.8,66.1 L10.5,70.5 L10.1,74.8 L9.8,79.2 L9.6,83.5 L9.6,87.9 L9.7,92.3 L9.9,96.6 L10.1,101"/>
<path d="M12.6,5 L12.6,9.4 L12.5,13.7 L12.3,18.1 L12.2,22.5 L12.3,26.8 L12.7,31.2 L13.4,35.5 L14.1,39.9 L14.7,44.3 L14.9,48.6 L14.7,53 L14.2,57.4 L13.4,61.7 L12.6,66.1 L11.8,70.5 L10.8,74.8 L9.9,79.2 L9.7,83.5 L10.2,87.9 L11,92.3 L11.5,96.6 L11.8,101"/>
<path d="M14.9,5 L14.9,9.4 L14.7,13.7 L14.2,18.1 L13.5,22.5 L12.9,26.8 L12.8,31.2 L13.2,35.5 L13.9,39.9 L14.5,44.3 L15,48.6 L15.4,53 L15.7,57.4 L15.9,61.7 L16,66.1 L15.7,70.5 L14.9,74.8 L13.8,79.2 L13.5,83.5 L14.1,87.9 L14.8,92.3 L15.1,96.6 L15.2,101"/>
<path d="M17.7,5 L17.6,9.4 L17.3,13.7 L16.6,18.1 L15.6,22.5 L14.9,26.8 L15,31.2 L15.8,35.5 L17,39.9 L18,44.3 L18.6,48.6 L19,53 L19.2,57.4 L19.3,61.7 L19.2,66.1 L19.2,70.5 L19.5,74.8 L19.8,79.2 L19.5,83.5 L18.7,87.9 L17.9,92.3 L17.6,96.6 L17.5,101"/>
<path d="M21.8,5 L22.1,9.4 L22.4,13.7 L22.8,18.1 L23.3,22.5 L23.5,26.8 L23.1,31.2 L22.2,35.5 L21.1,39.9 L20.4,44.3 L20.1,48.6 L20,53 L20.1,57.4 L20.3,61.7 L20.5,66.1 L20.6,70.5 L20.8,74.8 L21,79.2 L20.9,83.5 L20.6,87.9 L20.4,92.3 L20.4,96.6 L20.5,101"/>
<path d="M23.2,5 L23.5,9.4 L23.9,13.7 L24.5,18.1 L25.1,22.5 L25.6,26.8 L25.8,31.2 L25.6,35.5 L25.2,39.9 L24.7,44.3 L24.3,48.6 L23.9,53 L23.6,57.4 L23.4,61.7 L23.3,66.1 L23.3,70.5 L23.4,74.8 L23.4,79.2 L23.5,83.5 L23.5,87.9 L23.3,92.3 L23.2,96.6 L23,101"/>
<path d="M25.7,5 L25.7,9.4 L25.8,13.7 L26.1,18.1 L26.5,22.5 L26.9,26.8 L27.3,31.2 L27.6,35.5 L27.7,39.9 L27.7,44.3 L27.6,48.6 L27.4,53 L27.1,57.4 L26.8,61.7 L26.6,66.1 L26.5,70.5 L26.5,74.8 L26.5,79.2 L26.6,83.5 L26.6,87.9 L26.6,92.3 L26.4,96.6 L26.2,101"/>
<path d="M7.5,33 Q11.4,48.2 7.5,63.4 Q3.6,48.2 7.5,33 Z"/>
<path d="M18.5,18.6 Q21.8,29 18.5,39.5 Q15.2,29 18.5,18.6 Z"/>
<path d="M2.8,65.6 Q6.1,77 2.8,88.4 Q-0.5,77 2.8,65.6 Z"/>
<path d="M15.4,73.3 Q18.4,81.8 15.4,90.4 Q12.4,81.8 15.4,73.3 Z"/>
</g>
<path d="M18,14 L40,13.5 C43,13.5 43,11 46,11 L70,10.8 C73,10.8 73,8.5 76,8.5 L96,8"/>
<path d="M22,20 L52,19.5 C55,19.5 55,17 58,17 L86,16.5 C89,16.5 89,14.5 92,14.5 L104,14"/>
<path d="M12,26.5 L34,26.2 C37,26.2 37,24 40,24 L66,23.5 M74,23.3 L100,23"/>
<path d="M8,29 L20,28.8" />
</g>
<g transform="rotate(-7.5)"><ellipse cx="-0.5" cy="0" rx="6.5" ry="31.5" fill="#fff" stroke="#151515" stroke-width="1.7"/>
<g fill="none" stroke="#151515" stroke-width="0.9"><path d="M-3,-24 C-5,-12 -4,8 -1,24"/><path d="M1,-26 C3,-14 3.5,10 2,25"/><ellipse cx="-0.5" cy="2" rx="2.8" ry="13"/><ellipse cx="-0.5" cy="3" rx="1.2" ry="5"/><path d="M-4,-14 L2,-9 M-4,11 L2,15 M-3,-3 L3,0 M-2,18 L3,21"/></g></g>
</g></g>
</svg>
<svg class="a" style="left:0;top:0" width="1920" height="1080" viewBox="0 0 1920 1080">
<defs>
<linearGradient id="bladeS" x1="0" y1="0" x2="1" y2="0">
 <stop offset="0" stop-color="#7a7a7a"/><stop offset="0.3" stop-color="#626262"/><stop offset="0.55" stop-color="#3a3a3a"/><stop offset="0.8" stop-color="#282828"/><stop offset="1" stop-color="#222"/></linearGradient>
<linearGradient id="sband" x1="0" y1="0" x2="1" y2="0">
 <stop offset="0" stop-color="#666"/><stop offset="0.5" stop-color="#a0a0a0"/><stop offset="1" stop-color="#c8c8c8"/></linearGradient>
<linearGradient id="bladeA" x1="0" y1="0" x2="1" y2="0">
 <stop offset="0" stop-color="#3e3e3e"/><stop offset="0.3" stop-color="#303030"/><stop offset="0.85" stop-color="#292929"/><stop offset="1" stop-color="#454545"/></linearGradient>
<linearGradient id="metal" x1="0" y1="0" x2="0" y2="1">
 <stop offset="0" stop-color="#d8d8d8"/><stop offset="0.5" stop-color="#a8a8a8"/><stop offset="1" stop-color="#7a7a7a"/></linearGradient>
<linearGradient id="metalH" x1="0" y1="0" x2="1" y2="0">
 <stop offset="0" stop-color="#9a9a9a"/><stop offset="0.5" stop-color="#cfcfcf"/><stop offset="1" stop-color="#8a8a8a"/></linearGradient>
<linearGradient id="metalA" x1="0" y1="0" x2="1" y2="0">
 <stop offset="0" stop-color="#8c8c8c"/><stop offset="0.45" stop-color="#c4c4c4"/><stop offset="1" stop-color="#9a9a9a"/></linearGradient>
<linearGradient id="coverA" x1="0" y1="0" x2="1" y2="0">
 <stop offset="0" stop-color="#525252"/><stop offset="1" stop-color="#606060"/></linearGradient>
<linearGradient id="cover" x1="0" y1="0" x2="1" y2="0">
 <stop offset="0" stop-color="#3a3a3a"/><stop offset="1" stop-color="#454545"/></linearGradient>
<linearGradient id="hdl" x1="0" y1="0" x2="1" y2="0">
 <stop offset="0" stop-color="#0c0c0c"/><stop offset="0.28" stop-color="#151515"/><stop offset="0.34" stop-color="#2c2c2c"/><stop offset="0.42" stop-color="#5a5a5a"/><stop offset="0.74" stop-color="#656565"/><stop offset="0.8" stop-color="#3e3e3e"/><stop offset="0.86" stop-color="#1b1b1b"/><stop offset="1" stop-color="#202020"/></linearGradient>
<linearGradient id="blue" x1="0" y1="0" x2="1" y2="0">
 <stop offset="0" stop-color="#0a5590"/><stop offset="0.12" stop-color="#1270b2"/><stop offset="0.35" stop-color="#1b80c3"/><stop offset="0.5" stop-color="#2b90cf"/><stop offset="0.6" stop-color="#3e9fd7"/><stop offset="0.88" stop-color="#44a3d9"/><stop offset="1" stop-color="#2680c0"/></linearGradient>
<linearGradient id="panel" x1="0" y1="0" x2="1" y2="0">
 <stop offset="0" stop-color="#575757"/><stop offset="0.5" stop-color="#626262"/><stop offset="1" stop-color="#5a5a5a"/></linearGradient>
<linearGradient id="pad" x1="0" y1="0" x2="1" y2="0">
 <stop offset="0" stop-color="#3a3a3a"/><stop offset="0.3" stop-color="#5e5e5e"/><stop offset="0.7" stop-color="#606060"/><stop offset="1" stop-color="#444"/></linearGradient>
<linearGradient id="knob" x1="0" y1="0" x2="0" y2="1">
 <stop offset="0" stop-color="#1a1a1a"/><stop offset="1" stop-color="#444"/></linearGradient>
</defs>
<g>
<polygon fill="#141414" points="686,790 686.1,794 688,826.3 689.8,860 724.5,860 726.4,826.3 727.8,794 728.5,790"/>
<polygon fill="#272727" points="691.1,790 691.1,794 692.6,826.3 694,860 701.9,860 700,826.3 697.6,794 696.2,790"/>
<polygon fill="#474747" points="696.2,790 697.6,794 700,826.3 701.9,860 704,860 702.2,826.3 699.9,794 698.3,790"/>
<polygon fill="url(#panel)" points="698.3,790 699.9,794 702.2,826.3 704,860 718.6,860 719.9,826.3 720.7,794 721.3,790"/>
<polygon fill="#3c3c3c" points="721.3,790 720.7,794 719.9,826.3 718.6,860 720.7,860 722.2,826.3 723.2,794 723.8,790"/>
<polygon fill="#1c1c1c" points="689.5,856 724.8,856 724.8,866.5 689.5,866.5"/>
<line x1="689.8" y1="856" x2="724.5" y2="856" stroke="#3a3a3a" stroke-width="1"/>
<polygon fill="#1874b5" points="690,866 692,900 695.5,940 698.3,982 697.5,988 695,993 692,997 688.3,1000.4 684.5,1004.5 681.7,1008.5 694.3,1022.2 716.5,1022.2 731.7,1014.4 727.8,982 726.5,940 725.5,900 724.3,866"/>
<polygon fill="#0c5a96" points="690,866 692,900 695.5,940 698.3,982 701.8,982 699.2,940 696,900 694.1,866"/>
<polygon fill="#3391cb" points="708.9,866 710.4,900 712.5,940 714.5,982 721.9,982 720.3,940 718.8,900 717.4,866"/>
<polygon fill="#2683c2" points="717.4,866 718.8,900 720.3,940 721.9,982 726.9,982 725.6,940 724.5,900 723.3,866"/>
<polygon fill="url(#knob)" points="681.7,1008.5 694.3,1022.2 716.5,1022.2 731.7,1014.4 731.4,1011.2 716.5,1018 696.8,1017 685.2,1004.7"/>
<rect x="705" y="866" width="15" height="28.2" rx="1.5" fill="url(#pad)"/>
<line x1="708" y1="869" x2="717" y2="869" stroke="#3a3a3a" stroke-width="1"/>
<line x1="708" y1="874.5" x2="717" y2="874.5" stroke="#3a3a3a" stroke-width="1"/>
<line x1="708" y1="880.1" x2="717" y2="880.1" stroke="#3a3a3a" stroke-width="1"/>
<line x1="708" y1="885.7" x2="717" y2="885.7" stroke="#3a3a3a" stroke-width="1"/>
<line x1="708" y1="891.2" x2="717" y2="891.2" stroke="#3a3a3a" stroke-width="1"/>
<line x1="710.7" y1="898.2" x2="711.8" y2="919.7" stroke="#13609c" stroke-width="0.9"/>
<line x1="714.3" y1="971.2" x2="714.8" y2="993.7" stroke="#13609c" stroke-width="0.9"/>
<line x1="716.7" y1="898.2" x2="717.6" y2="919.7" stroke="#13609c" stroke-width="0.9"/>
<line x1="719.7" y1="971.2" x2="720.1" y2="993.7" stroke="#13609c" stroke-width="0.9"/>
<line x1="698.9" y1="902.2" x2="707.2" y2="902.2" stroke="#14639f" stroke-width="0.8"/>
<line x1="699.2" y1="906.7" x2="707.5" y2="906.7" stroke="#14639f" stroke-width="0.8"/>
<line x1="699.5" y1="911.2" x2="707.7" y2="911.2" stroke="#14639f" stroke-width="0.8"/>
<line x1="703.7" y1="973.2" x2="711.1" y2="973.2" stroke="#14639f" stroke-width="0.8"/>
<line x1="703.9" y1="977.7" x2="711.4" y2="977.7" stroke="#14639f" stroke-width="0.8"/>
<line x1="704.2" y1="982.2" x2="711.6" y2="982.2" stroke="#14639f" stroke-width="0.8"/>
<rect x="707.3" y="920.7" width="16.2" height="49.5" rx="1" fill="#2a78b5"/>
<rect x="708.3" y="921.7" width="14.2" height="47.5" fill="#575757"/>
<text transform="translate(712.8 946.4) rotate(90)" text-anchor="middle" font-family="Liberation Sans" font-weight="700" font-size="6" fill="#9a9a9a" textLength="28.5" lengthAdjust="spacingAndGlyphs">ʘ GRINDA</text>
<rect x="710.6" y="996.7" width="11.1" height="23" fill="#4a4a4a"/>
<rect x="713.9" y="1002.1" width="6.1" height="11.6" fill="#0a0a0a"/>
<circle cx="709.3" cy="809.8" r="6.5" fill="#d8d8d8"/>
<circle cx="709.3" cy="809.8" r="5.5" fill="#e0691f"/>
<rect x="703.3" y="807.8" width="12" height="3.9" fill="#ececec"/>
<rect x="704.6" y="808.4" width="1.3" height="2.9" fill="#1a1a1a"/>
<rect x="706.6" y="808.4" width="1.3" height="2.9" fill="#1a1a1a"/>
<rect x="708.5" y="808.4" width="1.3" height="2.9" fill="#1a1a1a"/>
<rect x="710.5" y="808.4" width="1.3" height="2.9" fill="#1a1a1a"/>
<rect x="712.4" y="808.4" width="1.3" height="2.9" fill="#1a1a1a"/>
<g transform="matrix(0.89430 -0.00084 -0.03886 0.89635 -217.27696 151.36454)">
<path fill="#141414" d="M972.7,679.6 C968.5,690 968,705 970.5,720 C972.5,732 976,742 980.3,749 C995,740 1015,728 1040,715 L1038,664 L1027.1,661.6 C1008,667 990,673 972.7,679.6 Z"/>
<path fill="url(#bladeA)" d="M978.5,687 C995,681 1015,674.5 1033,670.5 C1035,670.5 1035.5,672 1035.5,674 L1035.5,708 C1035.5,710.5 1034,712 1031,713.5 C1015,722 1000,733 987,744.5 C980,733 976.5,720 976.5,706 C976.5,697 977,692 978.5,687 Z"/>
<path fill="none" stroke="#474747" stroke-width="1.3" d="M980.5,690 C978,700 978.5,722 988,741"/>
<path fill="#0e0e0e" d="M972.7,679.6 L1027.1,661.6 L1035,664 L1034,669 C1015,673 995,680 977,687 Z"/>
<path fill="url(#metalA)" d="M1034,666 L1045,662.5 L1045.5,712.5 L1036,717 L1034.5,714 Z"/>
<path fill="#171717" d="M1027.1,661.6 L1087.3,643.7 L1089.5,650.5 L1035,666.5 Z"/>
<path fill="#7a7a7a" d="M1035,666.5 L1089.5,650.5 L1090.5,653 L1040,668 Z"/>
<path fill="#1e1e1e" d="M1087.3,643.7 L1091.5,641.5 L1093,644 L1092.5,692 L1089,693 Z"/>
<path fill="url(#metal)" d="M1092.5,646 L1093,642 L1098.9,645.5 L1098.9,690.6 L1092.5,692.5 Z"/>
<path fill="#d5d5d5" d="M1087.5,643.8 L1091.5,641.3 L1098.9,645.3 L1094,647.8 Z"/>
<path fill="#121212" d="M1041.5,672 C1041.5,667.5 1043.5,665.5 1047,664.8 L1086,655.5 C1090.5,654.5 1092.2,656.5 1092.2,660 L1092.2,698 C1092.2,701 1090.5,702.5 1088,703 L1087,716 L1045,717 C1042.5,716 1041.5,714 1041.5,711 Z"/>
<path fill="url(#coverA)" d="M1044.5,674 C1044.5,670.5 1046,669 1048.5,668.5 L1085.5,659.5 C1088,659 1089.3,660.5 1089.3,663 L1089.3,696 C1089.3,698.5 1088,700 1085.5,700.5 L1085,717 L1052,717 L1051,707 L1048,707.5 C1045.5,707.5 1044.5,706.5 1044.5,704 Z"/>
<path fill="#444" d="M1054.9,671.5 L1082.7,665 L1082.7,692 L1054.9,705 Z"/>
<g stroke="#222" stroke-width="1">
<line x1="1061.5" y1="670" x2="1061.5" y2="702"/><line x1="1068.5" y1="668.5" x2="1068.5" y2="699"/><line x1="1075.5" y1="666.8" x2="1075.5" y2="695.5"/>
</g>
<path fill="#4e4e4e" d="M1052,717 L1051,707 L1082.7,692 L1085,692 L1085,717 Z"/>
</g>
</g>
<g>
<polygon fill="#141414" points="1038.5,712 1038.7,715.7 1042.6,763 1045.7,810 1048.1,852 1082.7,852 1081.1,810 1081.9,763 1085,715.7 1086,712"/>
<polygon fill="#272727" points="1044.2,712 1044.3,715.7 1047.3,763 1049.9,810 1052.3,852 1060.2,852 1057.1,810 1054.2,763 1051.1,715.7 1049.9,712"/>
<polygon fill="#474747" points="1049.9,712 1051.1,715.7 1054.2,763 1057.1,810 1060.2,852 1062.3,852 1059.2,810 1056.4,763 1053.5,715.7 1052.3,712"/>
<polygon fill="url(#panel)" points="1052.3,712 1053.5,715.7 1056.4,763 1059.2,810 1062.3,852 1076.8,852 1075.1,810 1075.2,763 1077.1,715.7 1077.9,712"/>
<polygon fill="#3c3c3c" points="1077.9,712 1077.1,715.7 1075.2,763 1075.1,810 1076.8,852 1078.9,852 1077.2,810 1077.6,763 1079.9,715.7 1080.8,712"/>
<polygon fill="#1c1c1c" points="1047.8,848 1083,848 1082,861.5 1047.6,861.5"/>
<line x1="1048.1" y1="848" x2="1082.7" y2="848" stroke="#3a3a3a" stroke-width="1"/>
<polygon fill="#1874b5" points="1048.1,861 1051,900 1054,945 1056.5,980 1055.8,987 1053.5,993 1051,997.5 1048.3,1001.9 1045.5,1005.2 1043.1,1008.5 1060.2,1023.3 1079.4,1022.2 1089.8,1014.4 1088,980 1086,945 1083.5,900 1081.5,861"/>
<polygon fill="#0c5a96" points="1048.1,861 1051,900 1054,945 1056.5,980 1060.3,980 1057.8,945 1054.9,900 1052.1,861"/>
<polygon fill="#3391cb" points="1066.5,861 1068.9,900 1071.6,945 1073.8,980 1081.7,980 1079.6,945 1077,900 1074.8,861"/>
<polygon fill="#2683c2" points="1074.8,861 1077,900 1079.6,945 1081.7,980 1087.1,980 1085,945 1082.5,900 1080.5,861"/>
<polygon fill="url(#knob)" points="1043.1,1008.5 1060.2,1023.3 1079.4,1022.2 1089.8,1014.4 1089.5,1011.2 1079.4,1018 1062.7,1018.1 1046.6,1004.7"/>
<rect x="1064" y="861" width="16.6" height="28.2" rx="1.5" fill="url(#pad)"/>
<line x1="1067" y1="864" x2="1077.6" y2="864" stroke="#3a3a3a" stroke-width="1"/>
<line x1="1067" y1="869.5" x2="1077.6" y2="869.5" stroke="#3a3a3a" stroke-width="1"/>
<line x1="1067" y1="875.1" x2="1077.6" y2="875.1" stroke="#3a3a3a" stroke-width="1"/>
<line x1="1067" y1="880.7" x2="1077.6" y2="880.7" stroke="#3a3a3a" stroke-width="1"/>
<line x1="1067" y1="886.2" x2="1077.6" y2="886.2" stroke="#3a3a3a" stroke-width="1"/>
<line x1="1068.8" y1="893.2" x2="1070" y2="913.6" stroke="#13609c" stroke-width="0.9"/>
<line x1="1073.4" y1="967.7" x2="1074.1" y2="991.4" stroke="#13609c" stroke-width="0.9"/>
<line x1="1074.7" y1="893.2" x2="1075.8" y2="913.6" stroke="#13609c" stroke-width="0.9"/>
<line x1="1079.1" y1="967.7" x2="1079.8" y2="991.4" stroke="#13609c" stroke-width="0.9"/>
<line x1="1057.3" y1="897.2" x2="1065.4" y2="897.2" stroke="#14639f" stroke-width="0.8"/>
<line x1="1057.6" y1="901.7" x2="1065.7" y2="901.7" stroke="#14639f" stroke-width="0.8"/>
<line x1="1062.1" y1="969.7" x2="1070" y2="969.7" stroke="#14639f" stroke-width="0.8"/>
<line x1="1062.4" y1="974.2" x2="1070.3" y2="974.2" stroke="#14639f" stroke-width="0.8"/>
<line x1="1062.7" y1="978.7" x2="1070.6" y2="978.7" stroke="#14639f" stroke-width="0.8"/>
<line x1="1062.8" y1="983.2" x2="1070.7" y2="983.2" stroke="#14639f" stroke-width="0.8"/>
<rect x="1066.5" y="914.6" width="16" height="52.1" rx="1" fill="#2a78b5"/>
<rect x="1067.5" y="915.6" width="14" height="50.1" fill="#575757"/>
<text transform="translate(1072 941.7) rotate(90)" text-anchor="middle" font-family="Liberation Sans" font-weight="700" font-size="5.9" fill="#9a9a9a" textLength="30.1" lengthAdjust="spacingAndGlyphs">ʘ GRINDA</text>
<rect x="1070.6" y="994.4" width="9.6" height="25.3" fill="#4a4a4a"/>
<rect x="1073.5" y="1000.4" width="5.3" height="12.9" fill="#0a0a0a"/>
<circle cx="1068.5" cy="738" r="7" fill="#d8d8d8"/>
<circle cx="1068.5" cy="738" r="6" fill="#e0691f"/>
<rect x="1062.1" y="735.9" width="12.9" height="4.2" fill="#ececec"/>
<rect x="1063.5" y="736.5" width="1.4" height="3.1" fill="#1a1a1a"/>
<rect x="1065.6" y="736.5" width="1.4" height="3.1" fill="#1a1a1a"/>
<rect x="1067.7" y="736.5" width="1.4" height="3.1" fill="#1a1a1a"/>
<rect x="1069.8" y="736.5" width="1.4" height="3.1" fill="#1a1a1a"/>
<rect x="1071.9" y="736.5" width="1.4" height="3.1" fill="#1a1a1a"/>
<g transform="matrix(1.00000 0.00000 -0.00000 1.00000 0.00000 -0.00000)">
<path fill="#141414" d="M972.7,679.6 C968.5,690 968,705 970.5,720 C972.5,732 976,742 980.3,749 C995,740 1015,728 1040,715 L1038,664 L1027.1,661.6 C1008,667 990,673 972.7,679.6 Z"/>
<path fill="url(#bladeA)" d="M978.5,687 C995,681 1015,674.5 1033,670.5 C1035,670.5 1035.5,672 1035.5,674 L1035.5,708 C1035.5,710.5 1034,712 1031,713.5 C1015,722 1000,733 987,744.5 C980,733 976.5,720 976.5,706 C976.5,697 977,692 978.5,687 Z"/>
<path fill="none" stroke="#474747" stroke-width="1.3" d="M980.5,690 C978,700 978.5,722 988,741"/>
<path fill="#0e0e0e" d="M972.7,679.6 L1027.1,661.6 L1035,664 L1034,669 C1015,673 995,680 977,687 Z"/>
<path fill="url(#metalA)" d="M1034,666 L1045,662.5 L1045.5,712.5 L1036,717 L1034.5,714 Z"/>
<path fill="#171717" d="M1027.1,661.6 L1087.3,643.7 L1089.5,650.5 L1035,666.5 Z"/>
<path fill="#7a7a7a" d="M1035,666.5 L1089.5,650.5 L1090.5,653 L1040,668 Z"/>
<path fill="#1e1e1e" d="M1087.3,643.7 L1091.5,641.5 L1093,644 L1092.5,692 L1089,693 Z"/>
<path fill="url(#metal)" d="M1092.5,646 L1093,642 L1098.9,645.5 L1098.9,690.6 L1092.5,692.5 Z"/>
<path fill="#d5d5d5" d="M1087.5,643.8 L1091.5,641.3 L1098.9,645.3 L1094,647.8 Z"/>
<path fill="#121212" d="M1041.5,672 C1041.5,667.5 1043.5,665.5 1047,664.8 L1086,655.5 C1090.5,654.5 1092.2,656.5 1092.2,660 L1092.2,698 C1092.2,701 1090.5,702.5 1088,703 L1087,716 L1045,717 C1042.5,716 1041.5,714 1041.5,711 Z"/>
<path fill="url(#coverA)" d="M1044.5,674 C1044.5,670.5 1046,669 1048.5,668.5 L1085.5,659.5 C1088,659 1089.3,660.5 1089.3,663 L1089.3,696 C1089.3,698.5 1088,700 1085.5,700.5 L1085,717 L1052,717 L1051,707 L1048,707.5 C1045.5,707.5 1044.5,706.5 1044.5,704 Z"/>
<path fill="#444" d="M1054.9,671.5 L1082.7,665 L1082.7,692 L1054.9,705 Z"/>
<g stroke="#222" stroke-width="1">
<line x1="1061.5" y1="670" x2="1061.5" y2="702"/><line x1="1068.5" y1="668.5" x2="1068.5" y2="699"/><line x1="1075.5" y1="666.8" x2="1075.5" y2="695.5"/>
</g>
<path fill="#4e4e4e" d="M1052,717 L1051,707 L1082.7,692 L1085,692 L1085,717 Z"/>
</g>
</g>
<g>
<polygon fill="#141414" points="1400.5,592 1401.1,598.5 1405.7,654 1408.5,709.6 1411.3,741 1451.1,741 1449.3,709.6 1450.2,654 1459.4,598.5 1459.5,592"/>
<polygon fill="#272727" points="1407.6,592 1408.1,598.5 1411,654 1413.4,709.6 1416.1,741 1425.2,741 1421.7,709.6 1418.8,654 1416.7,598.5 1414.7,592"/>
<polygon fill="#474747" points="1414.7,592 1416.7,598.5 1418.8,654 1421.7,709.6 1425.2,741 1427.6,741 1424,709.6 1421.3,654 1419.8,598.5 1417.6,592"/>
<polygon fill="url(#panel)" points="1417.6,592 1419.8,598.5 1421.3,654 1424,709.6 1427.6,741 1444.3,741 1442.4,709.6 1442.6,654 1449.5,598.5 1449.5,592"/>
<polygon fill="#3c3c3c" points="1449.5,592 1449.5,598.5 1442.6,654 1442.4,709.6 1444.3,741 1446.7,741 1444.8,709.6 1445.3,654 1453,598.5 1453,592"/>
<polygon fill="#1c1c1c" points="1411,737 1451.4,737 1451.5,751.5 1410.5,751.5"/>
<line x1="1411.3" y1="737" x2="1451.1" y2="737" stroke="#3a3a3a" stroke-width="1"/>
<polygon fill="#1874b5" points="1411,751 1414,820 1418.5,900 1423,979.6 1421.5,985 1419.5,988 1417.2,990 1413.5,993.2 1409.8,995.9 1406.1,1001.1 1423.1,1023.3 1446.9,1021.1 1461.7,1010.7 1459.8,979.6 1457,900 1454,820 1451,751"/>
<polygon fill="#0c5a96" points="1411,751 1414,820 1418.5,900 1423,979.6 1427.4,979.6 1423.1,900 1418.8,820 1415.8,751"/>
<polygon fill="#3391cb" points="1433,751 1436,820 1439.7,900 1443.2,979.6 1452.4,979.6 1449.3,900 1446,820 1443,751"/>
<polygon fill="#2683c2" points="1443,751 1446,820 1449.3,900 1452.4,979.6 1458.7,979.6 1455.8,900 1452.8,820 1449.8,751"/>
<polygon fill="url(#knob)" points="1406.1,1001.1 1423.1,1023.3 1446.9,1021.1 1461.7,1010.7 1461.4,1007.5 1446.9,1016.9 1425.6,1018.1 1409.6,997.3"/>
<rect x="1428.9" y="751" width="18.1" height="59.6" rx="1.5" fill="url(#pad)"/>
<line x1="1431.9" y1="754" x2="1444" y2="754" stroke="#3a3a3a" stroke-width="1"/>
<line x1="1431.9" y1="759.4" x2="1444" y2="759.4" stroke="#3a3a3a" stroke-width="1"/>
<line x1="1431.9" y1="764.7" x2="1444" y2="764.7" stroke="#3a3a3a" stroke-width="1"/>
<line x1="1431.9" y1="770.1" x2="1444" y2="770.1" stroke="#3a3a3a" stroke-width="1"/>
<line x1="1431.9" y1="775.4" x2="1444" y2="775.4" stroke="#3a3a3a" stroke-width="1"/>
<line x1="1431.9" y1="780.8" x2="1444" y2="780.8" stroke="#3a3a3a" stroke-width="1"/>
<line x1="1431.9" y1="786.2" x2="1444" y2="786.2" stroke="#3a3a3a" stroke-width="1"/>
<line x1="1431.9" y1="791.5" x2="1444" y2="791.5" stroke="#3a3a3a" stroke-width="1"/>
<line x1="1431.9" y1="796.9" x2="1444" y2="796.9" stroke="#3a3a3a" stroke-width="1"/>
<line x1="1431.9" y1="802.2" x2="1444" y2="802.2" stroke="#3a3a3a" stroke-width="1"/>
<line x1="1431.9" y1="807.6" x2="1444" y2="807.6" stroke="#3a3a3a" stroke-width="1"/>
<line x1="1436.2" y1="814.6" x2="1438.1" y2="857.2" stroke="#13609c" stroke-width="0.9"/>
<line x1="1441.8" y1="939" x2="1443.6" y2="978.9" stroke="#13609c" stroke-width="0.9"/>
<line x1="1443.4" y1="814.6" x2="1445.2" y2="857.2" stroke="#13609c" stroke-width="0.9"/>
<line x1="1448.6" y1="939" x2="1450.2" y2="978.9" stroke="#13609c" stroke-width="0.9"/>
<line x1="1421.9" y1="818.6" x2="1431.9" y2="818.6" stroke="#14639f" stroke-width="0.8"/>
<line x1="1422.2" y1="823.1" x2="1432.1" y2="823.1" stroke="#14639f" stroke-width="0.8"/>
<line x1="1422.4" y1="827.6" x2="1432.4" y2="827.6" stroke="#14639f" stroke-width="0.8"/>
<line x1="1422.6" y1="832.1" x2="1432.6" y2="832.1" stroke="#14639f" stroke-width="0.8"/>
<line x1="1428.3" y1="941" x2="1437.7" y2="941" stroke="#14639f" stroke-width="0.8"/>
<line x1="1428.6" y1="945.5" x2="1438" y2="945.5" stroke="#14639f" stroke-width="0.8"/>
<line x1="1428.8" y1="950" x2="1438.2" y2="950" stroke="#14639f" stroke-width="0.8"/>
<line x1="1429" y1="954.5" x2="1438.4" y2="954.5" stroke="#14639f" stroke-width="0.8"/>
<rect x="1433.4" y="858.2" width="17.3" height="79.8" rx="1" fill="#2a78b5"/>
<rect x="1434.4" y="859.2" width="15.3" height="77.8" fill="#575757"/>
<text transform="translate(1439.3 899.7) rotate(90)" text-anchor="middle" font-family="Liberation Sans" font-weight="700" font-size="6.4" fill="#9a9a9a" textLength="46.7" lengthAdjust="spacingAndGlyphs">ʘ GRINDA</text>
<rect x="1438.7" y="981.9" width="11.9" height="35.5" fill="#4a4a4a"/>
<rect x="1442.3" y="990.7" width="6.5" height="18.8" fill="#0a0a0a"/>
<circle cx="1430.3" cy="633" r="7" fill="#d8d8d8"/>
<circle cx="1430.3" cy="633" r="6" fill="#e0691f"/>
<rect x="1423.9" y="630.9" width="12.9" height="4.2" fill="#ececec"/>
<rect x="1425.3" y="631.5" width="1.4" height="3.1" fill="#1a1a1a"/>
<rect x="1427.4" y="631.5" width="1.4" height="3.1" fill="#1a1a1a"/>
<rect x="1429.5" y="631.5" width="1.4" height="3.1" fill="#1a1a1a"/>
<rect x="1431.6" y="631.5" width="1.4" height="3.1" fill="#1a1a1a"/>
<rect x="1433.7" y="631.5" width="1.4" height="3.1" fill="#1a1a1a"/>
<g transform="matrix(0.81413 0.00770 -0.01328 0.82239 -19.01898 157.06269)">
<path fill="#141414" d="M1651.5,468.3 C1643,485 1641.5,518 1649,540 C1652,552 1657,562 1662.6,569 C1680,560 1712,540 1754.7,518.7 L1752,450 L1732.6,447 L1729.5,447.8 C1700,453 1670,461 1651.5,468.3 Z"/>
<path fill="url(#sband)" d="M1664,566.5 C1685,555 1715,538 1754.7,518.7 L1752.5,509.5 C1720,524 1690,541 1668,558 Z"/>
<path fill="url(#bladeS)" d="M1659,474 C1690,469.5 1715,468.5 1734,469.5 C1737.5,470 1738.5,473 1738.5,477 L1738.5,508 C1738.5,513 1736,515.5 1731,517.5 C1710,527 1688,542 1669.6,558.5 C1660,546 1654,530 1653.8,512 C1653.8,496 1655.5,483 1659,474 Z"/>
<path fill="url(#metalH)" d="M1737.5,452 L1753,448.5 L1754.5,519 L1745,523 C1742,518 1741.5,514 1741.5,509 L1741.5,470 C1741.5,462 1740,456 1737.5,452 Z"/>
<path fill="#1b1b1b" d="M1729.5,447.8 L1825.6,421.8 L1831,435.7 L1733.9,454.4 Z"/>
<path fill="#a0a0a0" d="M1733.9,454.4 L1831,435.7 L1833,440 L1740,458 Z"/>
<path fill="#222" d="M1825.6,421.8 L1835.3,417.6 L1838,420 L1834,426.7 L1834,489.5 L1826,491 Z"/>
<path fill="url(#metal)" d="M1834,426.7 L1838,420 L1847.8,423.9 L1850.5,428 L1850.5,483.6 L1844,489.9 L1834,489.9 Z"/>
<path fill="#0f0f0f" d="M1747,462 C1747,455 1750,451.5 1757,450 L1821,437 C1829,435.5 1832,438 1832,446 L1832,486 C1832,491 1829,493 1826,494 L1826,521 L1754,523 C1750,522 1748,519 1748,515 Z"/>
<path fill="url(#cover)" d="M1753.5,464 C1753.5,459.5 1755.5,457.5 1759,457 L1820,444 C1825,443 1826.5,445 1826.5,449 L1826.5,484 C1826.5,488 1824.5,490 1821,490.5 L1821,520 L1780,520 L1778,513 L1758,516 C1755,516 1753.5,514 1753.5,511 Z"/>
<path fill="#353535" d="M1772.5,455 L1813,446.5 L1813,489.5 L1772.5,505 Z"/>
<g stroke="#161616" stroke-width="1.1">
<line x1="1778.5" y1="454" x2="1778.5" y2="503"/><line x1="1784.5" y1="452.5" x2="1784.5" y2="500.5"/><line x1="1790.5" y1="451.3" x2="1790.5" y2="498"/><line x1="1796.5" y1="450" x2="1796.5" y2="496"/><line x1="1802.5" y1="448.8" x2="1802.5" y2="493.5"/><line x1="1808" y1="447.6" x2="1808" y2="491.5"/>
</g>
<g stroke="#5a5a5a" stroke-width="0.8">
<line x1="1780.5" y1="454" x2="1780.5" y2="502"/><line x1="1792.5" y1="451" x2="1792.5" y2="497"/><line x1="1804.5" y1="448.5" x2="1804.5" y2="492.5"/>
</g>
<path fill="#474747" d="M1775,521 L1774,512 L1813,496 L1821,492 L1821,521 Z"/>
</g>
</g>
<g>
<polygon fill="#141414" points="1753,518 1755.6,540 1761,606.7 1765.6,673 1771,740 1812.2,740 1808.9,673 1810,606.7 1818.9,540 1824,518"/>
<polygon fill="#272727" points="1761.5,518 1763.2,540 1766.9,606.7 1770.8,673 1775.9,740 1785.4,740 1779.6,673 1775.5,606.7 1772.5,540 1770,518"/>
<polygon fill="#474747" points="1770,518 1772.5,540 1775.5,606.7 1779.6,673 1785.4,740 1787.9,740 1782.1,673 1778.2,606.7 1775.9,540 1773.6,518"/>
<polygon fill="url(#panel)" points="1773.6,518 1775.9,540 1778.2,606.7 1782.1,673 1787.9,740 1805.2,740 1801.5,673 1801.7,606.7 1808.1,540 1811.9,518"/>
<polygon fill="#3c3c3c" points="1811.9,518 1808.1,540 1801.7,606.7 1801.5,673 1805.2,740 1807.7,740 1804.1,673 1804.6,606.7 1811.9,540 1816.2,518"/>
<polygon fill="#1c1c1c" points="1770.7,736 1812.5,736 1812.4,751.5 1770.1,751.5"/>
<line x1="1771" y1="736" x2="1812.2" y2="736" stroke="#3a3a3a" stroke-width="1"/>
<polygon fill="#1874b5" points="1770.6,751 1774,830 1779,900 1785,973.3 1784.3,979 1782.5,983.3 1779,989 1775,994.2 1771,998.2 1767.1,1001.7 1783.3,1023.3 1809.2,1020 1822.9,1011.7 1820.5,973.3 1817,900 1815,830 1811.9,751"/>
<polygon fill="#0c5a96" points="1770.6,751 1774,830 1779,900 1785,973.3 1789.3,973.3 1783.6,900 1778.9,830 1775.6,751"/>
<polygon fill="#3391cb" points="1793.3,751 1796.5,830 1799.9,900 1804.5,973.3 1813.4,973.3 1809.4,900 1806.8,830 1803.6,751"/>
<polygon fill="#2683c2" points="1803.6,751 1806.8,830 1809.4,900 1813.4,973.3 1819.4,973.3 1815.9,900 1813.8,830 1810.7,751"/>
<polygon fill="url(#knob)" points="1767.1,1001.7 1783.3,1023.3 1809.2,1020 1822.9,1011.7 1822.6,1008.5 1809.2,1015.8 1785.8,1018.1 1770.6,997.9"/>
<rect x="1789" y="752" width="16.7" height="59.6" rx="1.5" fill="url(#pad)"/>
<line x1="1792" y1="755" x2="1802.7" y2="755" stroke="#3a3a3a" stroke-width="1"/>
<line x1="1792" y1="760.4" x2="1802.7" y2="760.4" stroke="#3a3a3a" stroke-width="1"/>
<line x1="1792" y1="765.7" x2="1802.7" y2="765.7" stroke="#3a3a3a" stroke-width="1"/>
<line x1="1792" y1="771.1" x2="1802.7" y2="771.1" stroke="#3a3a3a" stroke-width="1"/>
<line x1="1792" y1="776.4" x2="1802.7" y2="776.4" stroke="#3a3a3a" stroke-width="1"/>
<line x1="1792" y1="781.8" x2="1802.7" y2="781.8" stroke="#3a3a3a" stroke-width="1"/>
<line x1="1792" y1="787.2" x2="1802.7" y2="787.2" stroke="#3a3a3a" stroke-width="1"/>
<line x1="1792" y1="792.5" x2="1802.7" y2="792.5" stroke="#3a3a3a" stroke-width="1"/>
<line x1="1792" y1="797.9" x2="1802.7" y2="797.9" stroke="#3a3a3a" stroke-width="1"/>
<line x1="1792" y1="803.2" x2="1802.7" y2="803.2" stroke="#3a3a3a" stroke-width="1"/>
<line x1="1792" y1="808.6" x2="1802.7" y2="808.6" stroke="#3a3a3a" stroke-width="1"/>
<line x1="1796.4" y1="815.6" x2="1798.4" y2="860" stroke="#13609c" stroke-width="0.9"/>
<line x1="1802.7" y1="939" x2="1804.9" y2="979.5" stroke="#13609c" stroke-width="0.9"/>
<line x1="1803.8" y1="815.6" x2="1805.5" y2="860" stroke="#13609c" stroke-width="0.9"/>
<line x1="1809.3" y1="939" x2="1811.3" y2="979.5" stroke="#13609c" stroke-width="0.9"/>
<line x1="1781.8" y1="819.6" x2="1792" y2="819.6" stroke="#14639f" stroke-width="0.8"/>
<line x1="1782" y1="824.1" x2="1792.2" y2="824.1" stroke="#14639f" stroke-width="0.8"/>
<line x1="1782.1" y1="828.6" x2="1792.4" y2="828.6" stroke="#14639f" stroke-width="0.8"/>
<line x1="1782.4" y1="833.1" x2="1792.6" y2="833.1" stroke="#14639f" stroke-width="0.8"/>
<line x1="1789.7" y1="941" x2="1798.8" y2="941" stroke="#14639f" stroke-width="0.8"/>
<line x1="1790" y1="945.5" x2="1799.1" y2="945.5" stroke="#14639f" stroke-width="0.8"/>
<line x1="1790.4" y1="950" x2="1799.4" y2="950" stroke="#14639f" stroke-width="0.8"/>
<line x1="1790.7" y1="954.5" x2="1799.7" y2="954.5" stroke="#14639f" stroke-width="0.8"/>
<rect x="1794" y="861" width="15.8" height="77" rx="1" fill="#2a78b5"/>
<rect x="1795" y="862" width="13.8" height="75" fill="#575757"/>
<text transform="translate(1799.4 901) rotate(90)" text-anchor="middle" font-family="Liberation Sans" font-weight="700" font-size="5.8" fill="#9a9a9a" textLength="45" lengthAdjust="spacingAndGlyphs">ʘ GRINDA</text>
<rect x="1799.2" y="982.5" width="12.5" height="31.3" fill="#4a4a4a"/>
<rect x="1803" y="990.1" width="6.9" height="16.4" fill="#0a0a0a"/>
<circle cx="1788.2" cy="562.5" r="8.2" fill="#d8d8d8"/>
<circle cx="1788.2" cy="562.5" r="7" fill="#e0691f"/>
<rect x="1780.7" y="560" width="15.1" height="4.9" fill="#ececec"/>
<rect x="1782.3" y="560.7" width="1.6" height="3.6" fill="#1a1a1a"/>
<rect x="1784.8" y="560.7" width="1.6" height="3.6" fill="#1a1a1a"/>
<rect x="1787.2" y="560.7" width="1.6" height="3.6" fill="#1a1a1a"/>
<rect x="1789.7" y="560.7" width="1.6" height="3.6" fill="#1a1a1a"/>
<rect x="1792.1" y="560.7" width="1.6" height="3.6" fill="#1a1a1a"/>
<g transform="matrix(1.00000 -0.00000 0.00000 1.00000 -0.00000 0.00000)">
<path fill="#141414" d="M1651.5,468.3 C1643,485 1641.5,518 1649,540 C1652,552 1657,562 1662.6,569 C1680,560 1712,540 1754.7,518.7 L1752,450 L1732.6,447 L1729.5,447.8 C1700,453 1670,461 1651.5,468.3 Z"/>
<path fill="url(#sband)" d="M1664,566.5 C1685,555 1715,538 1754.7,518.7 L1752.5,509.5 C1720,524 1690,541 1668,558 Z"/>
<path fill="url(#bladeS)" d="M1659,474 C1690,469.5 1715,468.5 1734,469.5 C1737.5,470 1738.5,473 1738.5,477 L1738.5,508 C1738.5,513 1736,515.5 1731,517.5 C1710,527 1688,542 1669.6,558.5 C1660,546 1654,530 1653.8,512 C1653.8,496 1655.5,483 1659,474 Z"/>
<path fill="url(#metalH)" d="M1737.5,452 L1753,448.5 L1754.5,519 L1745,523 C1742,518 1741.5,514 1741.5,509 L1741.5,470 C1741.5,462 1740,456 1737.5,452 Z"/>
<path fill="#1b1b1b" d="M1729.5,447.8 L1825.6,421.8 L1831,435.7 L1733.9,454.4 Z"/>
<path fill="#a0a0a0" d="M1733.9,454.4 L1831,435.7 L1833,440 L1740,458 Z"/>
<path fill="#222" d="M1825.6,421.8 L1835.3,417.6 L1838,420 L1834,426.7 L1834,489.5 L1826,491 Z"/>
<path fill="url(#metal)" d="M1834,426.7 L1838,420 L1847.8,423.9 L1850.5,428 L1850.5,483.6 L1844,489.9 L1834,489.9 Z"/>
<path fill="#0f0f0f" d="M1747,462 C1747,455 1750,451.5 1757,450 L1821,437 C1829,435.5 1832,438 1832,446 L1832,486 C1832,491 1829,493 1826,494 L1826,521 L1754,523 C1750,522 1748,519 1748,515 Z"/>
<path fill="url(#cover)" d="M1753.5,464 C1753.5,459.5 1755.5,457.5 1759,457 L1820,444 C1825,443 1826.5,445 1826.5,449 L1826.5,484 C1826.5,488 1824.5,490 1821,490.5 L1821,520 L1780,520 L1778,513 L1758,516 C1755,516 1753.5,514 1753.5,511 Z"/>
<path fill="#353535" d="M1772.5,455 L1813,446.5 L1813,489.5 L1772.5,505 Z"/>
<g stroke="#161616" stroke-width="1.1">
<line x1="1778.5" y1="454" x2="1778.5" y2="503"/><line x1="1784.5" y1="452.5" x2="1784.5" y2="500.5"/><line x1="1790.5" y1="451.3" x2="1790.5" y2="498"/><line x1="1796.5" y1="450" x2="1796.5" y2="496"/><line x1="1802.5" y1="448.8" x2="1802.5" y2="493.5"/><line x1="1808" y1="447.6" x2="1808" y2="491.5"/>
</g>
<g stroke="#5a5a5a" stroke-width="0.8">
<line x1="1780.5" y1="454" x2="1780.5" y2="502"/><line x1="1792.5" y1="451" x2="1792.5" y2="497"/><line x1="1804.5" y1="448.5" x2="1804.5" y2="492.5"/>
</g>
<path fill="#474747" d="M1775,521 L1774,512 L1813,496 L1821,492 L1821,521 Z"/>
</g>
</g>
</svg>
<div class="a" style="left:1766px;top:1042.2px;font-size:16px;color:#333;line-height:1">www.grinda.ru</div>
</body></html>
